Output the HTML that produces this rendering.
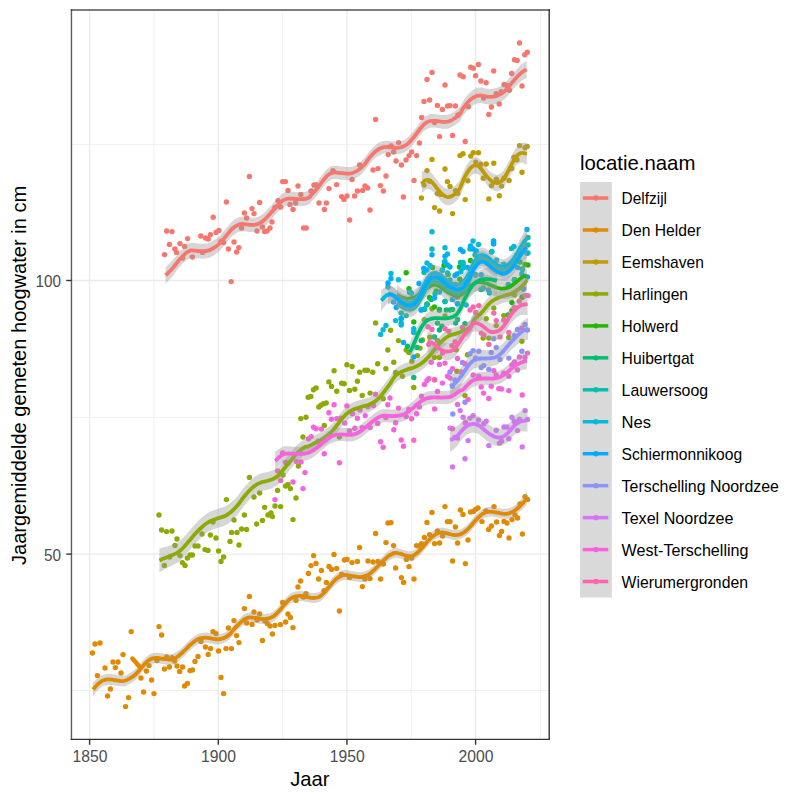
<!DOCTYPE html>
<html><head><meta charset="utf-8"><title>chart</title>
<style>html,body{margin:0;padding:0;background:#fff;width:800px;height:800px;overflow:hidden;font-family:"Liberation Sans",sans-serif}</style></head>
<body>
<svg width="800" height="800" viewBox="0 0 800 800" style="position:absolute;left:0;top:0">
<rect x="0" y="0" width="800" height="800" fill="#fff"/>
<g stroke="#ebebeb" fill="none">
<line x1="153.93" x2="153.93" y1="10.25" y2="739.4" stroke-width="0.7"/>
<line x1="282.60" x2="282.60" y1="10.25" y2="739.4" stroke-width="0.7"/>
<line x1="411.26" x2="411.26" y1="10.25" y2="739.4" stroke-width="0.7"/>
<line x1="540.40" x2="540.40" y1="10.25" y2="739.4" stroke-width="0.7"/>
<line y1="690.50" y2="690.50" x1="71.45" x2="549.2" stroke-width="0.7"/>
<line y1="417.40" y2="417.40" x1="71.45" x2="549.2" stroke-width="0.7"/>
<line y1="144.60" y2="144.60" x1="71.45" x2="549.2" stroke-width="0.7"/>
<line x1="89.60" x2="89.60" y1="10.25" y2="739.4" stroke-width="1.4"/>
<line x1="218.27" x2="218.27" y1="10.25" y2="739.4" stroke-width="1.4"/>
<line x1="346.93" x2="346.93" y1="10.25" y2="739.4" stroke-width="1.4"/>
<line x1="475.60" x2="475.60" y1="10.25" y2="739.4" stroke-width="1.4"/>
<line y1="554.10" y2="554.10" x1="71.45" x2="549.2" stroke-width="1.4"/>
<line y1="280.50" y2="280.50" x1="71.45" x2="549.2" stroke-width="1.4"/>
</g>
<g id="pts">
<circle cx="164.6" cy="254.6" r="2.7" fill="#F8766D"/>
<circle cx="166.6" cy="231.0" r="2.7" fill="#F8766D"/>
<circle cx="169.4" cy="244.4" r="2.7" fill="#F8766D"/>
<circle cx="172.0" cy="231.6" r="2.7" fill="#F8766D"/>
<circle cx="174.8" cy="249.0" r="2.7" fill="#F8766D"/>
<circle cx="176.6" cy="252.4" r="2.7" fill="#F8766D"/>
<circle cx="180.0" cy="243.6" r="2.7" fill="#F8766D"/>
<circle cx="182.6" cy="258.0" r="2.7" fill="#F8766D"/>
<circle cx="184.6" cy="246.4" r="2.7" fill="#F8766D"/>
<circle cx="187.6" cy="238.6" r="2.7" fill="#F8766D"/>
<circle cx="192.4" cy="257.0" r="2.7" fill="#F8766D"/>
<circle cx="200.8" cy="236.0" r="2.7" fill="#F8766D"/>
<circle cx="202.6" cy="252.4" r="2.7" fill="#F8766D"/>
<circle cx="205.6" cy="238.0" r="2.7" fill="#F8766D"/>
<circle cx="208.2" cy="239.0" r="2.7" fill="#F8766D"/>
<circle cx="210.4" cy="234.6" r="2.7" fill="#F8766D"/>
<circle cx="213.2" cy="217.2" r="2.7" fill="#F8766D"/>
<circle cx="216.0" cy="232.4" r="2.7" fill="#F8766D"/>
<circle cx="218.8" cy="230.4" r="2.7" fill="#F8766D"/>
<circle cx="221.0" cy="241.4" r="2.7" fill="#F8766D"/>
<circle cx="223.6" cy="242.6" r="2.7" fill="#F8766D"/>
<circle cx="226.4" cy="202.0" r="2.7" fill="#F8766D"/>
<circle cx="228.4" cy="249.0" r="2.7" fill="#F8766D"/>
<circle cx="231.2" cy="281.6" r="2.7" fill="#F8766D"/>
<circle cx="234.0" cy="242.0" r="2.7" fill="#F8766D"/>
<circle cx="236.6" cy="252.0" r="2.7" fill="#F8766D"/>
<circle cx="238.8" cy="247.6" r="2.7" fill="#F8766D"/>
<circle cx="241.6" cy="228.0" r="2.7" fill="#F8766D"/>
<circle cx="244.4" cy="213.0" r="2.7" fill="#F8766D"/>
<circle cx="246.6" cy="218.0" r="2.7" fill="#F8766D"/>
<circle cx="249.4" cy="176.4" r="2.7" fill="#F8766D"/>
<circle cx="252.0" cy="208.6" r="2.7" fill="#F8766D"/>
<circle cx="254.0" cy="213.6" r="2.7" fill="#F8766D"/>
<circle cx="257.0" cy="231.0" r="2.7" fill="#F8766D"/>
<circle cx="259.6" cy="202.4" r="2.7" fill="#F8766D"/>
<circle cx="262.4" cy="227.0" r="2.7" fill="#F8766D"/>
<circle cx="264.6" cy="231.6" r="2.7" fill="#F8766D"/>
<circle cx="267.0" cy="231.0" r="2.7" fill="#F8766D"/>
<circle cx="270.0" cy="228.0" r="2.7" fill="#F8766D"/>
<circle cx="272.0" cy="222.0" r="2.7" fill="#F8766D"/>
<circle cx="275.0" cy="207.4" r="2.7" fill="#F8766D"/>
<circle cx="278.0" cy="200.6" r="2.7" fill="#F8766D"/>
<circle cx="280.6" cy="207.0" r="2.7" fill="#F8766D"/>
<circle cx="282.6" cy="181.6" r="2.7" fill="#F8766D"/>
<circle cx="285.4" cy="181.6" r="2.7" fill="#F8766D"/>
<circle cx="288.0" cy="190.4" r="2.7" fill="#F8766D"/>
<circle cx="290.0" cy="204.4" r="2.7" fill="#F8766D"/>
<circle cx="293.0" cy="209.4" r="2.7" fill="#F8766D"/>
<circle cx="295.6" cy="203.0" r="2.7" fill="#F8766D"/>
<circle cx="298.0" cy="186.0" r="2.7" fill="#F8766D"/>
<circle cx="300.8" cy="194.4" r="2.7" fill="#F8766D"/>
<circle cx="303.6" cy="228.0" r="2.7" fill="#F8766D"/>
<circle cx="306.2" cy="228.0" r="2.7" fill="#F8766D"/>
<circle cx="311.0" cy="191.0" r="2.7" fill="#F8766D"/>
<circle cx="314.0" cy="185.0" r="2.7" fill="#F8766D"/>
<circle cx="316.0" cy="185.0" r="2.7" fill="#F8766D"/>
<circle cx="319.0" cy="203.0" r="2.7" fill="#F8766D"/>
<circle cx="324.4" cy="209.4" r="2.7" fill="#F8766D"/>
<circle cx="326.4" cy="203.0" r="2.7" fill="#F8766D"/>
<circle cx="329.0" cy="188.6" r="2.7" fill="#F8766D"/>
<circle cx="333.0" cy="170.6" r="2.7" fill="#F8766D"/>
<circle cx="336.6" cy="184.6" r="2.7" fill="#F8766D"/>
<circle cx="341.6" cy="196.6" r="2.7" fill="#F8766D"/>
<circle cx="344.0" cy="199.4" r="2.7" fill="#F8766D"/>
<circle cx="347.0" cy="196.0" r="2.7" fill="#F8766D"/>
<circle cx="349.6" cy="220.0" r="2.7" fill="#F8766D"/>
<circle cx="352.0" cy="179.4" r="2.7" fill="#F8766D"/>
<circle cx="354.6" cy="196.0" r="2.7" fill="#F8766D"/>
<circle cx="357.4" cy="191.0" r="2.7" fill="#F8766D"/>
<circle cx="359.6" cy="165.0" r="2.7" fill="#F8766D"/>
<circle cx="362.6" cy="190.4" r="2.7" fill="#F8766D"/>
<circle cx="365.0" cy="186.0" r="2.7" fill="#F8766D"/>
<circle cx="367.6" cy="188.0" r="2.7" fill="#F8766D"/>
<circle cx="370.0" cy="210.0" r="2.7" fill="#F8766D"/>
<circle cx="373.0" cy="170.0" r="2.7" fill="#F8766D"/>
<circle cx="375.6" cy="119.4" r="2.7" fill="#F8766D"/>
<circle cx="378.0" cy="168.6" r="2.7" fill="#F8766D"/>
<circle cx="380.4" cy="185.6" r="2.7" fill="#F8766D"/>
<circle cx="383.4" cy="191.0" r="2.7" fill="#F8766D"/>
<circle cx="386.0" cy="176.0" r="2.7" fill="#F8766D"/>
<circle cx="388.2" cy="154.6" r="2.7" fill="#F8766D"/>
<circle cx="391.0" cy="146.0" r="2.7" fill="#F8766D"/>
<circle cx="393.6" cy="152.0" r="2.7" fill="#F8766D"/>
<circle cx="396.0" cy="161.0" r="2.7" fill="#F8766D"/>
<circle cx="398.6" cy="142.6" r="2.7" fill="#F8766D"/>
<circle cx="401.4" cy="165.0" r="2.7" fill="#F8766D"/>
<circle cx="403.4" cy="197.0" r="2.7" fill="#F8766D"/>
<circle cx="406.0" cy="160.0" r="2.7" fill="#F8766D"/>
<circle cx="409.0" cy="155.6" r="2.7" fill="#F8766D"/>
<circle cx="411.6" cy="152.0" r="2.7" fill="#F8766D"/>
<circle cx="414.0" cy="180.4" r="2.7" fill="#F8766D"/>
<circle cx="416.6" cy="155.6" r="2.7" fill="#F8766D"/>
<circle cx="419.4" cy="143.0" r="2.7" fill="#F8766D"/>
<circle cx="421.6" cy="117.4" r="2.7" fill="#F8766D"/>
<circle cx="424.0" cy="101.4" r="2.7" fill="#F8766D"/>
<circle cx="427.0" cy="79.4" r="2.7" fill="#F8766D"/>
<circle cx="429.6" cy="100.0" r="2.7" fill="#F8766D"/>
<circle cx="432.0" cy="72.4" r="2.7" fill="#F8766D"/>
<circle cx="434.6" cy="122.6" r="2.7" fill="#F8766D"/>
<circle cx="437.4" cy="105.4" r="2.7" fill="#F8766D"/>
<circle cx="439.6" cy="136.6" r="2.7" fill="#F8766D"/>
<circle cx="442.4" cy="109.4" r="2.7" fill="#F8766D"/>
<circle cx="445.0" cy="85.0" r="2.7" fill="#F8766D"/>
<circle cx="447.6" cy="106.0" r="2.7" fill="#F8766D"/>
<circle cx="450.0" cy="105.6" r="2.7" fill="#F8766D"/>
<circle cx="452.6" cy="135.4" r="2.7" fill="#F8766D"/>
<circle cx="455.4" cy="106.0" r="2.7" fill="#F8766D"/>
<circle cx="458.0" cy="115.0" r="2.7" fill="#F8766D"/>
<circle cx="460.0" cy="75.0" r="2.7" fill="#F8766D"/>
<circle cx="463.2" cy="76.7" r="2.7" fill="#F8766D"/>
<circle cx="468.5" cy="106.7" r="2.7" fill="#F8766D"/>
<circle cx="470.8" cy="67.2" r="2.7" fill="#F8766D"/>
<circle cx="473.3" cy="68.3" r="2.7" fill="#F8766D"/>
<circle cx="475.6" cy="75.8" r="2.7" fill="#F8766D"/>
<circle cx="478.4" cy="64.5" r="2.7" fill="#F8766D"/>
<circle cx="480.9" cy="81.0" r="2.7" fill="#F8766D"/>
<circle cx="483.5" cy="98.0" r="2.7" fill="#F8766D"/>
<circle cx="486.1" cy="82.7" r="2.7" fill="#F8766D"/>
<circle cx="488.8" cy="114.5" r="2.7" fill="#F8766D"/>
<circle cx="491.4" cy="107.0" r="2.7" fill="#F8766D"/>
<circle cx="493.7" cy="71.0" r="2.7" fill="#F8766D"/>
<circle cx="496.2" cy="93.8" r="2.7" fill="#F8766D"/>
<circle cx="499.2" cy="104.0" r="2.7" fill="#F8766D"/>
<circle cx="501.2" cy="91.7" r="2.7" fill="#F8766D"/>
<circle cx="504.1" cy="84.5" r="2.7" fill="#F8766D"/>
<circle cx="506.8" cy="85.5" r="2.7" fill="#F8766D"/>
<circle cx="509.4" cy="90.2" r="2.7" fill="#F8766D"/>
<circle cx="511.7" cy="73.5" r="2.7" fill="#F8766D"/>
<circle cx="514.5" cy="59.8" r="2.7" fill="#F8766D"/>
<circle cx="517.2" cy="60.5" r="2.7" fill="#F8766D"/>
<circle cx="519.5" cy="43.0" r="2.7" fill="#F8766D"/>
<circle cx="522.0" cy="86.0" r="2.7" fill="#F8766D"/>
<circle cx="524.8" cy="54.8" r="2.7" fill="#F8766D"/>
<circle cx="527.3" cy="52.2" r="2.7" fill="#F8766D"/>
<circle cx="465.2" cy="141.5" r="2.7" fill="#F8766D"/>
<circle cx="92.4" cy="653.0" r="2.7" fill="#E18A00"/>
<circle cx="95.0" cy="644.0" r="2.7" fill="#E18A00"/>
<circle cx="97.4" cy="675.6" r="2.7" fill="#E18A00"/>
<circle cx="100.0" cy="643.0" r="2.7" fill="#E18A00"/>
<circle cx="105.0" cy="668.0" r="2.7" fill="#E18A00"/>
<circle cx="107.6" cy="696.0" r="2.7" fill="#E18A00"/>
<circle cx="110.4" cy="689.0" r="2.7" fill="#E18A00"/>
<circle cx="113.0" cy="662.0" r="2.7" fill="#E18A00"/>
<circle cx="115.4" cy="667.6" r="2.7" fill="#E18A00"/>
<circle cx="118.0" cy="662.0" r="2.7" fill="#E18A00"/>
<circle cx="121.0" cy="673.0" r="2.7" fill="#E18A00"/>
<circle cx="123.0" cy="654.6" r="2.7" fill="#E18A00"/>
<circle cx="125.6" cy="706.6" r="2.7" fill="#E18A00"/>
<circle cx="128.6" cy="697.6" r="2.7" fill="#E18A00"/>
<circle cx="131.2" cy="631.6" r="2.7" fill="#E18A00"/>
<circle cx="141.0" cy="678.0" r="2.7" fill="#E18A00"/>
<circle cx="143.6" cy="692.0" r="2.7" fill="#E18A00"/>
<circle cx="146.4" cy="671.0" r="2.7" fill="#E18A00"/>
<circle cx="149.0" cy="665.6" r="2.7" fill="#E18A00"/>
<circle cx="151.6" cy="680.0" r="2.7" fill="#E18A00"/>
<circle cx="154.0" cy="693.6" r="2.7" fill="#E18A00"/>
<circle cx="157.0" cy="660.6" r="2.7" fill="#E18A00"/>
<circle cx="159.0" cy="626.6" r="2.7" fill="#E18A00"/>
<circle cx="161.6" cy="635.0" r="2.7" fill="#E18A00"/>
<circle cx="164.4" cy="669.0" r="2.7" fill="#E18A00"/>
<circle cx="166.6" cy="657.0" r="2.7" fill="#E18A00"/>
<circle cx="169.4" cy="667.0" r="2.7" fill="#E18A00"/>
<circle cx="172.0" cy="657.6" r="2.7" fill="#E18A00"/>
<circle cx="174.6" cy="661.0" r="2.7" fill="#E18A00"/>
<circle cx="177.0" cy="666.0" r="2.7" fill="#E18A00"/>
<circle cx="179.6" cy="671.4" r="2.7" fill="#E18A00"/>
<circle cx="182.6" cy="667.0" r="2.7" fill="#E18A00"/>
<circle cx="184.6" cy="686.0" r="2.7" fill="#E18A00"/>
<circle cx="187.4" cy="683.4" r="2.7" fill="#E18A00"/>
<circle cx="190.0" cy="670.6" r="2.7" fill="#E18A00"/>
<circle cx="192.4" cy="670.0" r="2.7" fill="#E18A00"/>
<circle cx="195.0" cy="661.4" r="2.7" fill="#E18A00"/>
<circle cx="198.0" cy="656.4" r="2.7" fill="#E18A00"/>
<circle cx="201.0" cy="641.4" r="2.7" fill="#E18A00"/>
<circle cx="205.4" cy="647.0" r="2.7" fill="#E18A00"/>
<circle cx="208.2" cy="654.4" r="2.7" fill="#E18A00"/>
<circle cx="210.6" cy="648.6" r="2.7" fill="#E18A00"/>
<circle cx="213.0" cy="631.6" r="2.7" fill="#E18A00"/>
<circle cx="216.0" cy="633.6" r="2.7" fill="#E18A00"/>
<circle cx="218.6" cy="651.0" r="2.7" fill="#E18A00"/>
<circle cx="221.0" cy="677.4" r="2.7" fill="#E18A00"/>
<circle cx="223.6" cy="693.6" r="2.7" fill="#E18A00"/>
<circle cx="226.0" cy="648.6" r="2.7" fill="#E18A00"/>
<circle cx="228.4" cy="628.0" r="2.7" fill="#E18A00"/>
<circle cx="231.4" cy="648.6" r="2.7" fill="#E18A00"/>
<circle cx="234.0" cy="620.6" r="2.7" fill="#E18A00"/>
<circle cx="236.6" cy="635.6" r="2.7" fill="#E18A00"/>
<circle cx="239.0" cy="642.6" r="2.7" fill="#E18A00"/>
<circle cx="244.4" cy="608.6" r="2.7" fill="#E18A00"/>
<circle cx="246.6" cy="623.0" r="2.7" fill="#E18A00"/>
<circle cx="249.4" cy="596.4" r="2.7" fill="#E18A00"/>
<circle cx="252.0" cy="624.4" r="2.7" fill="#E18A00"/>
<circle cx="254.0" cy="612.0" r="2.7" fill="#E18A00"/>
<circle cx="257.0" cy="620.0" r="2.7" fill="#E18A00"/>
<circle cx="259.6" cy="614.0" r="2.7" fill="#E18A00"/>
<circle cx="262.4" cy="640.4" r="2.7" fill="#E18A00"/>
<circle cx="265.0" cy="621.0" r="2.7" fill="#E18A00"/>
<circle cx="267.4" cy="623.6" r="2.7" fill="#E18A00"/>
<circle cx="270.0" cy="626.0" r="2.7" fill="#E18A00"/>
<circle cx="272.4" cy="634.0" r="2.7" fill="#E18A00"/>
<circle cx="275.0" cy="625.4" r="2.7" fill="#E18A00"/>
<circle cx="280.4" cy="624.6" r="2.7" fill="#E18A00"/>
<circle cx="282.6" cy="602.4" r="2.7" fill="#E18A00"/>
<circle cx="285.6" cy="622.0" r="2.7" fill="#E18A00"/>
<circle cx="288.0" cy="614.0" r="2.7" fill="#E18A00"/>
<circle cx="290.4" cy="617.4" r="2.7" fill="#E18A00"/>
<circle cx="293.0" cy="627.6" r="2.7" fill="#E18A00"/>
<circle cx="296.0" cy="600.4" r="2.7" fill="#E18A00"/>
<circle cx="298.0" cy="587.0" r="2.7" fill="#E18A00"/>
<circle cx="300.6" cy="581.0" r="2.7" fill="#E18A00"/>
<circle cx="303.4" cy="597.0" r="2.7" fill="#E18A00"/>
<circle cx="306.0" cy="593.6" r="2.7" fill="#E18A00"/>
<circle cx="308.4" cy="573.4" r="2.7" fill="#E18A00"/>
<circle cx="311.0" cy="565.6" r="2.7" fill="#E18A00"/>
<circle cx="313.6" cy="555.6" r="2.7" fill="#E18A00"/>
<circle cx="316.0" cy="563.4" r="2.7" fill="#E18A00"/>
<circle cx="318.6" cy="579.0" r="2.7" fill="#E18A00"/>
<circle cx="321.4" cy="570.4" r="2.7" fill="#E18A00"/>
<circle cx="324.0" cy="590.6" r="2.7" fill="#E18A00"/>
<circle cx="326.4" cy="582.4" r="2.7" fill="#E18A00"/>
<circle cx="329.0" cy="566.4" r="2.7" fill="#E18A00"/>
<circle cx="331.6" cy="569.4" r="2.7" fill="#E18A00"/>
<circle cx="334.0" cy="554.4" r="2.7" fill="#E18A00"/>
<circle cx="336.6" cy="568.4" r="2.7" fill="#E18A00"/>
<circle cx="339.4" cy="611.0" r="2.7" fill="#E18A00"/>
<circle cx="341.6" cy="574.4" r="2.7" fill="#E18A00"/>
<circle cx="344.4" cy="560.0" r="2.7" fill="#E18A00"/>
<circle cx="347.0" cy="559.4" r="2.7" fill="#E18A00"/>
<circle cx="349.6" cy="577.6" r="2.7" fill="#E18A00"/>
<circle cx="352.0" cy="562.6" r="2.7" fill="#E18A00"/>
<circle cx="357.4" cy="561.4" r="2.7" fill="#E18A00"/>
<circle cx="359.6" cy="547.4" r="2.7" fill="#E18A00"/>
<circle cx="362.4" cy="586.6" r="2.7" fill="#E18A00"/>
<circle cx="365.0" cy="579.0" r="2.7" fill="#E18A00"/>
<circle cx="368.0" cy="561.0" r="2.7" fill="#E18A00"/>
<circle cx="370.0" cy="578.6" r="2.7" fill="#E18A00"/>
<circle cx="373.0" cy="562.0" r="2.7" fill="#E18A00"/>
<circle cx="375.6" cy="533.4" r="2.7" fill="#E18A00"/>
<circle cx="378.0" cy="561.4" r="2.7" fill="#E18A00"/>
<circle cx="380.6" cy="579.0" r="2.7" fill="#E18A00"/>
<circle cx="383.4" cy="564.0" r="2.7" fill="#E18A00"/>
<circle cx="386.0" cy="542.6" r="2.7" fill="#E18A00"/>
<circle cx="388.0" cy="523.0" r="2.7" fill="#E18A00"/>
<circle cx="391.0" cy="522.6" r="2.7" fill="#E18A00"/>
<circle cx="393.6" cy="545.6" r="2.7" fill="#E18A00"/>
<circle cx="395.6" cy="568.0" r="2.7" fill="#E18A00"/>
<circle cx="401.4" cy="577.6" r="2.7" fill="#E18A00"/>
<circle cx="403.6" cy="582.4" r="2.7" fill="#E18A00"/>
<circle cx="406.4" cy="559.4" r="2.7" fill="#E18A00"/>
<circle cx="409.0" cy="566.6" r="2.7" fill="#E18A00"/>
<circle cx="411.6" cy="558.0" r="2.7" fill="#E18A00"/>
<circle cx="414.0" cy="579.0" r="2.7" fill="#E18A00"/>
<circle cx="416.6" cy="545.6" r="2.7" fill="#E18A00"/>
<circle cx="419.2" cy="546.0" r="2.7" fill="#E18A00"/>
<circle cx="421.6" cy="543.6" r="2.7" fill="#E18A00"/>
<circle cx="424.4" cy="537.4" r="2.7" fill="#E18A00"/>
<circle cx="427.0" cy="522.4" r="2.7" fill="#E18A00"/>
<circle cx="429.6" cy="534.6" r="2.7" fill="#E18A00"/>
<circle cx="432.0" cy="512.4" r="2.7" fill="#E18A00"/>
<circle cx="434.6" cy="543.6" r="2.7" fill="#E18A00"/>
<circle cx="437.4" cy="531.0" r="2.7" fill="#E18A00"/>
<circle cx="439.6" cy="543.0" r="2.7" fill="#E18A00"/>
<circle cx="442.6" cy="536.0" r="2.7" fill="#E18A00"/>
<circle cx="445.0" cy="506.6" r="2.7" fill="#E18A00"/>
<circle cx="447.4" cy="521.6" r="2.7" fill="#E18A00"/>
<circle cx="450.0" cy="521.6" r="2.7" fill="#E18A00"/>
<circle cx="452.6" cy="561.0" r="2.7" fill="#E18A00"/>
<circle cx="455.4" cy="527.0" r="2.7" fill="#E18A00"/>
<circle cx="457.6" cy="543.0" r="2.7" fill="#E18A00"/>
<circle cx="460.4" cy="510.0" r="2.7" fill="#E18A00"/>
<circle cx="463.0" cy="514.4" r="2.7" fill="#E18A00"/>
<circle cx="465.4" cy="563.6" r="2.7" fill="#E18A00"/>
<circle cx="468.0" cy="540.0" r="2.7" fill="#E18A00"/>
<circle cx="470.6" cy="512.0" r="2.7" fill="#E18A00"/>
<circle cx="473.4" cy="511.4" r="2.7" fill="#E18A00"/>
<circle cx="475.6" cy="509.4" r="2.7" fill="#E18A00"/>
<circle cx="478.0" cy="508.0" r="2.7" fill="#E18A00"/>
<circle cx="482.0" cy="521.6" r="2.7" fill="#E18A00"/>
<circle cx="486.0" cy="511.0" r="2.7" fill="#E18A00"/>
<circle cx="488.6" cy="529.4" r="2.7" fill="#E18A00"/>
<circle cx="491.4" cy="526.0" r="2.7" fill="#E18A00"/>
<circle cx="494.0" cy="506.6" r="2.7" fill="#E18A00"/>
<circle cx="496.6" cy="522.0" r="2.7" fill="#E18A00"/>
<circle cx="499.4" cy="535.6" r="2.7" fill="#E18A00"/>
<circle cx="501.6" cy="531.4" r="2.7" fill="#E18A00"/>
<circle cx="504.0" cy="521.4" r="2.7" fill="#E18A00"/>
<circle cx="507.0" cy="523.0" r="2.7" fill="#E18A00"/>
<circle cx="509.0" cy="538.0" r="2.7" fill="#E18A00"/>
<circle cx="512.0" cy="519.6" r="2.7" fill="#E18A00"/>
<circle cx="515.0" cy="515.0" r="2.7" fill="#E18A00"/>
<circle cx="517.6" cy="518.0" r="2.7" fill="#E18A00"/>
<circle cx="520.0" cy="504.0" r="2.7" fill="#E18A00"/>
<circle cx="522.4" cy="534.0" r="2.7" fill="#E18A00"/>
<circle cx="525.0" cy="496.6" r="2.7" fill="#E18A00"/>
<circle cx="527.6" cy="499.4" r="2.7" fill="#E18A00"/>
<circle cx="421.4" cy="198.0" r="2.7" fill="#BE9C00"/>
<circle cx="424.0" cy="185.0" r="2.7" fill="#BE9C00"/>
<circle cx="427.0" cy="170.6" r="2.7" fill="#BE9C00"/>
<circle cx="432.0" cy="159.4" r="2.7" fill="#BE9C00"/>
<circle cx="434.6" cy="207.6" r="2.7" fill="#BE9C00"/>
<circle cx="437.4" cy="193.6" r="2.7" fill="#BE9C00"/>
<circle cx="439.6" cy="211.0" r="2.7" fill="#BE9C00"/>
<circle cx="441.0" cy="194.4" r="2.7" fill="#BE9C00"/>
<circle cx="445.0" cy="169.0" r="2.7" fill="#BE9C00"/>
<circle cx="447.4" cy="181.6" r="2.7" fill="#BE9C00"/>
<circle cx="450.0" cy="186.4" r="2.7" fill="#BE9C00"/>
<circle cx="452.6" cy="213.6" r="2.7" fill="#BE9C00"/>
<circle cx="460.0" cy="155.6" r="2.7" fill="#BE9C00"/>
<circle cx="429.6" cy="181.2" r="2.7" fill="#BE9C00"/>
<circle cx="455.5" cy="190.6" r="2.7" fill="#BE9C00"/>
<circle cx="457.8" cy="193.2" r="2.7" fill="#BE9C00"/>
<circle cx="463.0" cy="153.8" r="2.7" fill="#BE9C00"/>
<circle cx="465.2" cy="199.6" r="2.7" fill="#BE9C00"/>
<circle cx="467.9" cy="180.8" r="2.7" fill="#BE9C00"/>
<circle cx="470.8" cy="156.1" r="2.7" fill="#BE9C00"/>
<circle cx="473.2" cy="152.8" r="2.7" fill="#BE9C00"/>
<circle cx="475.8" cy="162.1" r="2.7" fill="#BE9C00"/>
<circle cx="478.4" cy="152.8" r="2.7" fill="#BE9C00"/>
<circle cx="481.0" cy="164.3" r="2.7" fill="#BE9C00"/>
<circle cx="483.2" cy="178.2" r="2.7" fill="#BE9C00"/>
<circle cx="486.2" cy="164.0" r="2.7" fill="#BE9C00"/>
<circle cx="488.8" cy="198.9" r="2.7" fill="#BE9C00"/>
<circle cx="491.5" cy="185.8" r="2.7" fill="#BE9C00"/>
<circle cx="493.8" cy="163.2" r="2.7" fill="#BE9C00"/>
<circle cx="496.4" cy="179.3" r="2.7" fill="#BE9C00"/>
<circle cx="499.3" cy="195.8" r="2.7" fill="#BE9C00"/>
<circle cx="501.6" cy="186.1" r="2.7" fill="#BE9C00"/>
<circle cx="503.9" cy="178.2" r="2.7" fill="#BE9C00"/>
<circle cx="509.1" cy="180.5" r="2.7" fill="#BE9C00"/>
<circle cx="511.8" cy="168.5" r="2.7" fill="#BE9C00"/>
<circle cx="514.0" cy="157.2" r="2.7" fill="#BE9C00"/>
<circle cx="517.0" cy="159.8" r="2.7" fill="#BE9C00"/>
<circle cx="519.5" cy="145.6" r="2.7" fill="#BE9C00"/>
<circle cx="522.0" cy="172.2" r="2.7" fill="#BE9C00"/>
<circle cx="525.0" cy="147.8" r="2.7" fill="#BE9C00"/>
<circle cx="527.2" cy="146.4" r="2.7" fill="#BE9C00"/>
<circle cx="234.0" cy="520.0" r="2.7" fill="#8CAB00"/>
<circle cx="244.4" cy="515.0" r="2.7" fill="#8CAB00"/>
<circle cx="231.6" cy="532.4" r="2.7" fill="#8CAB00"/>
<circle cx="237.0" cy="532.4" r="2.7" fill="#8CAB00"/>
<circle cx="241.6" cy="529.0" r="2.7" fill="#8CAB00"/>
<circle cx="246.6" cy="529.4" r="2.7" fill="#8CAB00"/>
<circle cx="239.0" cy="545.0" r="2.7" fill="#8CAB00"/>
<circle cx="256.6" cy="524.0" r="2.7" fill="#8CAB00"/>
<circle cx="262.4" cy="520.4" r="2.7" fill="#8CAB00"/>
<circle cx="268.0" cy="515.0" r="2.7" fill="#8CAB00"/>
<circle cx="271.0" cy="513.0" r="2.7" fill="#8CAB00"/>
<circle cx="272.4" cy="516.6" r="2.7" fill="#8CAB00"/>
<circle cx="293.0" cy="519.6" r="2.7" fill="#8CAB00"/>
<circle cx="230.0" cy="541.4" r="2.7" fill="#8CAB00"/>
<circle cx="159.0" cy="515.0" r="2.7" fill="#8CAB00"/>
<circle cx="161.6" cy="530.0" r="2.7" fill="#8CAB00"/>
<circle cx="164.4" cy="565.4" r="2.7" fill="#8CAB00"/>
<circle cx="166.6" cy="531.6" r="2.7" fill="#8CAB00"/>
<circle cx="169.6" cy="557.0" r="2.7" fill="#8CAB00"/>
<circle cx="172.0" cy="531.0" r="2.7" fill="#8CAB00"/>
<circle cx="175.0" cy="545.4" r="2.7" fill="#8CAB00"/>
<circle cx="177.0" cy="539.0" r="2.7" fill="#8CAB00"/>
<circle cx="180.0" cy="555.6" r="2.7" fill="#8CAB00"/>
<circle cx="182.4" cy="562.6" r="2.7" fill="#8CAB00"/>
<circle cx="185.0" cy="565.4" r="2.7" fill="#8CAB00"/>
<circle cx="187.4" cy="558.0" r="2.7" fill="#8CAB00"/>
<circle cx="190.0" cy="555.0" r="2.7" fill="#8CAB00"/>
<circle cx="192.4" cy="555.0" r="2.7" fill="#8CAB00"/>
<circle cx="195.0" cy="546.0" r="2.7" fill="#8CAB00"/>
<circle cx="198.0" cy="546.0" r="2.7" fill="#8CAB00"/>
<circle cx="202.0" cy="534.0" r="2.7" fill="#8CAB00"/>
<circle cx="205.0" cy="549.6" r="2.7" fill="#8CAB00"/>
<circle cx="208.0" cy="550.4" r="2.7" fill="#8CAB00"/>
<circle cx="210.4" cy="535.0" r="2.7" fill="#8CAB00"/>
<circle cx="213.0" cy="522.0" r="2.7" fill="#8CAB00"/>
<circle cx="216.0" cy="538.0" r="2.7" fill="#8CAB00"/>
<circle cx="218.6" cy="551.0" r="2.7" fill="#8CAB00"/>
<circle cx="221.0" cy="561.4" r="2.7" fill="#8CAB00"/>
<circle cx="223.6" cy="557.0" r="2.7" fill="#8CAB00"/>
<circle cx="226.4" cy="499.6" r="2.7" fill="#8CAB00"/>
<circle cx="249.4" cy="477.4" r="2.7" fill="#8CAB00"/>
<circle cx="254.0" cy="497.0" r="2.7" fill="#8CAB00"/>
<circle cx="259.6" cy="493.0" r="2.7" fill="#8CAB00"/>
<circle cx="264.6" cy="507.4" r="2.7" fill="#8CAB00"/>
<circle cx="275.0" cy="506.0" r="2.7" fill="#8CAB00"/>
<circle cx="277.6" cy="490.4" r="2.7" fill="#8CAB00"/>
<circle cx="280.6" cy="506.6" r="2.7" fill="#8CAB00"/>
<circle cx="283.0" cy="475.0" r="2.7" fill="#8CAB00"/>
<circle cx="285.6" cy="486.0" r="2.7" fill="#8CAB00"/>
<circle cx="288.0" cy="484.4" r="2.7" fill="#8CAB00"/>
<circle cx="290.4" cy="488.6" r="2.7" fill="#8CAB00"/>
<circle cx="296.0" cy="498.0" r="2.7" fill="#8CAB00"/>
<circle cx="298.4" cy="466.0" r="2.7" fill="#8CAB00"/>
<circle cx="303.0" cy="437.0" r="2.7" fill="#8CAB00"/>
<circle cx="300.8" cy="418.6" r="2.7" fill="#8CAB00"/>
<circle cx="306.0" cy="417.2" r="2.7" fill="#8CAB00"/>
<circle cx="308.2" cy="397.2" r="2.7" fill="#8CAB00"/>
<circle cx="310.9" cy="396.5" r="2.7" fill="#8CAB00"/>
<circle cx="313.5" cy="389.8" r="2.7" fill="#8CAB00"/>
<circle cx="316.1" cy="387.9" r="2.7" fill="#8CAB00"/>
<circle cx="318.8" cy="407.0" r="2.7" fill="#8CAB00"/>
<circle cx="321.0" cy="405.2" r="2.7" fill="#8CAB00"/>
<circle cx="323.6" cy="403.7" r="2.7" fill="#8CAB00"/>
<circle cx="324.3" cy="425.4" r="2.7" fill="#8CAB00"/>
<circle cx="326.2" cy="402.9" r="2.7" fill="#8CAB00"/>
<circle cx="328.9" cy="381.9" r="2.7" fill="#8CAB00"/>
<circle cx="331.5" cy="386.4" r="2.7" fill="#8CAB00"/>
<circle cx="334.1" cy="370.7" r="2.7" fill="#8CAB00"/>
<circle cx="336.8" cy="391.2" r="2.7" fill="#8CAB00"/>
<circle cx="339.4" cy="437.0" r="2.7" fill="#8CAB00"/>
<circle cx="341.7" cy="383.3" r="2.7" fill="#8CAB00"/>
<circle cx="344.2" cy="383.8" r="2.7" fill="#8CAB00"/>
<circle cx="346.9" cy="364.7" r="2.7" fill="#8CAB00"/>
<circle cx="349.5" cy="390.5" r="2.7" fill="#8CAB00"/>
<circle cx="352.1" cy="366.5" r="2.7" fill="#8CAB00"/>
<circle cx="354.8" cy="389.3" r="2.7" fill="#8CAB00"/>
<circle cx="357.4" cy="381.2" r="2.7" fill="#8CAB00"/>
<circle cx="359.7" cy="372.2" r="2.7" fill="#8CAB00"/>
<circle cx="362.2" cy="395.4" r="2.7" fill="#8CAB00"/>
<circle cx="364.9" cy="370.2" r="2.7" fill="#8CAB00"/>
<circle cx="367.5" cy="370.2" r="2.7" fill="#8CAB00"/>
<circle cx="370.1" cy="393.1" r="2.7" fill="#8CAB00"/>
<circle cx="372.8" cy="372.2" r="2.7" fill="#8CAB00"/>
<circle cx="377.7" cy="363.8" r="2.7" fill="#8CAB00"/>
<circle cx="383.2" cy="398.8" r="2.7" fill="#8CAB00"/>
<circle cx="385.9" cy="368.8" r="2.7" fill="#8CAB00"/>
<circle cx="387.8" cy="350.0" r="2.7" fill="#8CAB00"/>
<circle cx="375.6" cy="322.9" r="2.7" fill="#8CAB00"/>
<circle cx="390.6" cy="330.2" r="2.7" fill="#8CAB00"/>
<circle cx="393.8" cy="362.2" r="2.7" fill="#8CAB00"/>
<circle cx="395.6" cy="372.5" r="2.7" fill="#8CAB00"/>
<circle cx="398.5" cy="340.6" r="2.7" fill="#8CAB00"/>
<circle cx="402.5" cy="376.2" r="2.7" fill="#8CAB00"/>
<circle cx="406.2" cy="350.0" r="2.7" fill="#8CAB00"/>
<circle cx="408.8" cy="352.5" r="2.7" fill="#8CAB00"/>
<circle cx="411.9" cy="361.2" r="2.7" fill="#8CAB00"/>
<circle cx="413.8" cy="387.5" r="2.7" fill="#8CAB00"/>
<circle cx="417.5" cy="355.6" r="2.7" fill="#8CAB00"/>
<circle cx="420.0" cy="348.1" r="2.7" fill="#8CAB00"/>
<circle cx="422.5" cy="340.0" r="2.7" fill="#8CAB00"/>
<circle cx="424.4" cy="319.8" r="2.7" fill="#8CAB00"/>
<circle cx="429.8" cy="337.2" r="2.7" fill="#8CAB00"/>
<circle cx="431.9" cy="308.8" r="2.7" fill="#8CAB00"/>
<circle cx="434.4" cy="357.5" r="2.7" fill="#8CAB00"/>
<circle cx="437.5" cy="340.6" r="2.7" fill="#8CAB00"/>
<circle cx="439.4" cy="357.5" r="2.7" fill="#8CAB00"/>
<circle cx="439.4" cy="310.2" r="2.7" fill="#8CAB00"/>
<circle cx="445.0" cy="316.0" r="2.7" fill="#8CAB00"/>
<circle cx="456.2" cy="349.8" r="2.7" fill="#8CAB00"/>
<circle cx="456.9" cy="371.2" r="2.7" fill="#8CAB00"/>
<circle cx="467.5" cy="354.8" r="2.7" fill="#8CAB00"/>
<circle cx="493.8" cy="308.1" r="2.7" fill="#8CAB00"/>
<circle cx="486.2" cy="318.8" r="2.7" fill="#8CAB00"/>
<circle cx="496.2" cy="325.6" r="2.7" fill="#8CAB00"/>
<circle cx="503.8" cy="315.6" r="2.7" fill="#8CAB00"/>
<circle cx="514.4" cy="295.0" r="2.7" fill="#8CAB00"/>
<circle cx="521.9" cy="297.5" r="2.7" fill="#8CAB00"/>
<circle cx="508.8" cy="337.5" r="2.7" fill="#8CAB00"/>
<circle cx="488.8" cy="338.1" r="2.7" fill="#8CAB00"/>
<circle cx="483.1" cy="338.1" r="2.7" fill="#8CAB00"/>
<circle cx="521.9" cy="341.2" r="2.7" fill="#8CAB00"/>
<circle cx="465.0" cy="395.6" r="2.7" fill="#8CAB00"/>
<circle cx="401.2" cy="313.1" r="2.7" fill="#8CAB00"/>
<circle cx="406.2" cy="272.8" r="2.7" fill="#24B700"/>
<circle cx="409.0" cy="288.7" r="2.7" fill="#24B700"/>
<circle cx="432.5" cy="267.5" r="2.7" fill="#24B700"/>
<circle cx="444.0" cy="265.5" r="2.7" fill="#24B700"/>
<circle cx="429.5" cy="297.5" r="2.7" fill="#24B700"/>
<circle cx="427.0" cy="304.0" r="2.7" fill="#24B700"/>
<circle cx="470.5" cy="260.5" r="2.7" fill="#24B700"/>
<circle cx="459.5" cy="267.0" r="2.7" fill="#24B700"/>
<circle cx="525.0" cy="264.5" r="2.7" fill="#24B700"/>
<circle cx="528.0" cy="265.0" r="2.7" fill="#24B700"/>
<circle cx="520.0" cy="262.0" r="2.7" fill="#24B700"/>
<circle cx="514.5" cy="279.5" r="2.7" fill="#24B700"/>
<circle cx="522.5" cy="297.0" r="2.7" fill="#24B700"/>
<circle cx="413.8" cy="321.9" r="2.7" fill="#24B700"/>
<circle cx="434.4" cy="306.9" r="2.7" fill="#24B700"/>
<circle cx="508.1" cy="315.0" r="2.7" fill="#24B700"/>
<circle cx="511.9" cy="310.6" r="2.7" fill="#24B700"/>
<circle cx="511.9" cy="302.5" r="2.7" fill="#24B700"/>
<circle cx="459.8" cy="279.2" r="2.7" fill="#24B700"/>
<circle cx="436.1" cy="290.9" r="2.7" fill="#24B700"/>
<circle cx="448.1" cy="274.4" r="2.7" fill="#24B700"/>
<circle cx="457.5" cy="296.9" r="2.7" fill="#24B700"/>
<circle cx="481.0" cy="289.5" r="2.7" fill="#00BE70"/>
<circle cx="483.5" cy="288.0" r="2.7" fill="#00BE70"/>
<circle cx="522.0" cy="269.0" r="2.7" fill="#00BE70"/>
<circle cx="426.9" cy="304.8" r="2.7" fill="#00BE70"/>
<circle cx="424.4" cy="309.4" r="2.7" fill="#00BE70"/>
<circle cx="437.5" cy="323.1" r="2.7" fill="#00BE70"/>
<circle cx="439.4" cy="330.0" r="2.7" fill="#00BE70"/>
<circle cx="445.0" cy="301.5" r="2.7" fill="#00BE70"/>
<circle cx="446.2" cy="310.0" r="2.7" fill="#00BE70"/>
<circle cx="450.0" cy="310.0" r="2.7" fill="#00BE70"/>
<circle cx="452.5" cy="309.4" r="2.7" fill="#00BE70"/>
<circle cx="455.6" cy="323.1" r="2.7" fill="#00BE70"/>
<circle cx="434.4" cy="336.9" r="2.7" fill="#00BE70"/>
<circle cx="421.2" cy="340.6" r="2.7" fill="#00BE70"/>
<circle cx="416.9" cy="347.5" r="2.7" fill="#00BE70"/>
<circle cx="407.5" cy="346.2" r="2.7" fill="#00BE70"/>
<circle cx="413.8" cy="377.5" r="2.7" fill="#00BE70"/>
<circle cx="441.9" cy="326.2" r="2.7" fill="#00BE70"/>
<circle cx="465.0" cy="323.8" r="2.7" fill="#00BE70"/>
<circle cx="457.5" cy="319.4" r="2.7" fill="#00BE70"/>
<circle cx="439.4" cy="309.4" r="2.7" fill="#00BE70"/>
<circle cx="431.2" cy="299.4" r="2.7" fill="#00BE70"/>
<circle cx="475.6" cy="274.8" r="2.7" fill="#00BE70"/>
<circle cx="432.0" cy="249.0" r="2.7" fill="#00C1AB"/>
<circle cx="445.0" cy="261.5" r="2.7" fill="#00C1AB"/>
<circle cx="424.0" cy="272.5" r="2.7" fill="#00C1AB"/>
<circle cx="447.5" cy="273.0" r="2.7" fill="#00C1AB"/>
<circle cx="445.0" cy="301.5" r="2.7" fill="#00C1AB"/>
<circle cx="435.0" cy="294.0" r="2.7" fill="#00C1AB"/>
<circle cx="450.0" cy="280.0" r="2.7" fill="#00C1AB"/>
<circle cx="460.5" cy="262.5" r="2.7" fill="#00C1AB"/>
<circle cx="463.0" cy="267.0" r="2.7" fill="#00C1AB"/>
<circle cx="470.0" cy="249.0" r="2.7" fill="#00C1AB"/>
<circle cx="475.0" cy="255.0" r="2.7" fill="#00C1AB"/>
<circle cx="492.0" cy="251.5" r="2.7" fill="#00C1AB"/>
<circle cx="511.5" cy="248.5" r="2.7" fill="#00C1AB"/>
<circle cx="528.0" cy="237.5" r="2.7" fill="#00C1AB"/>
<circle cx="528.0" cy="245.0" r="2.7" fill="#00C1AB"/>
<circle cx="528.0" cy="253.0" r="2.7" fill="#00C1AB"/>
<circle cx="482.0" cy="289.0" r="2.7" fill="#00C1AB"/>
<circle cx="489.5" cy="293.0" r="2.7" fill="#00C1AB"/>
<circle cx="475.5" cy="275.0" r="2.7" fill="#00C1AB"/>
<circle cx="401.2" cy="313.1" r="2.7" fill="#00C1AB"/>
<circle cx="406.2" cy="315.6" r="2.7" fill="#00C1AB"/>
<circle cx="410.0" cy="291.9" r="2.7" fill="#00C1AB"/>
<circle cx="463.1" cy="264.6" r="2.7" fill="#00C1AB"/>
<circle cx="455.2" cy="284.1" r="2.7" fill="#00C1AB"/>
<circle cx="503.8" cy="264.5" r="2.7" fill="#00C1AB"/>
<circle cx="522.5" cy="269.4" r="2.7" fill="#00C1AB"/>
<circle cx="401.2" cy="323.2" r="2.7" fill="#00C1AB"/>
<circle cx="414.0" cy="331.9" r="2.7" fill="#00C1AB"/>
<circle cx="424.5" cy="309.0" r="2.7" fill="#00C1AB"/>
<circle cx="427.1" cy="304.5" r="2.7" fill="#00C1AB"/>
<circle cx="442.2" cy="270.0" r="2.7" fill="#00C1AB"/>
<circle cx="514.2" cy="280.0" r="2.7" fill="#00C1AB"/>
<circle cx="391.0" cy="273.5" r="2.7" fill="#00BBDA"/>
<circle cx="398.5" cy="279.7" r="2.7" fill="#00BBDA"/>
<circle cx="432.0" cy="231.8" r="2.7" fill="#00BBDA"/>
<circle cx="445.0" cy="247.8" r="2.7" fill="#00BBDA"/>
<circle cx="427.0" cy="263.0" r="2.7" fill="#00BBDA"/>
<circle cx="424.0" cy="268.5" r="2.7" fill="#00BBDA"/>
<circle cx="447.5" cy="254.0" r="2.7" fill="#00BBDA"/>
<circle cx="409.5" cy="292.5" r="2.7" fill="#00BBDA"/>
<circle cx="388.0" cy="287.0" r="2.7" fill="#00BBDA"/>
<circle cx="430.0" cy="265.5" r="2.7" fill="#00BBDA"/>
<circle cx="442.5" cy="270.5" r="2.7" fill="#00BBDA"/>
<circle cx="473.0" cy="241.0" r="2.7" fill="#00BBDA"/>
<circle cx="478.5" cy="244.5" r="2.7" fill="#00BBDA"/>
<circle cx="493.5" cy="241.0" r="2.7" fill="#00BBDA"/>
<circle cx="493.5" cy="243.5" r="2.7" fill="#00BBDA"/>
<circle cx="476.5" cy="251.0" r="2.7" fill="#00BBDA"/>
<circle cx="514.0" cy="246.5" r="2.7" fill="#00BBDA"/>
<circle cx="380.6" cy="334.4" r="2.7" fill="#00BBDA"/>
<circle cx="383.1" cy="329.8" r="2.7" fill="#00BBDA"/>
<circle cx="386.0" cy="325.4" r="2.7" fill="#00BBDA"/>
<circle cx="395.6" cy="320.6" r="2.7" fill="#00BBDA"/>
<circle cx="401.2" cy="318.8" r="2.7" fill="#00BBDA"/>
<circle cx="401.2" cy="325.0" r="2.7" fill="#00BBDA"/>
<circle cx="413.8" cy="328.8" r="2.7" fill="#00BBDA"/>
<circle cx="413.8" cy="332.5" r="2.7" fill="#00BBDA"/>
<circle cx="421.2" cy="310.0" r="2.7" fill="#00BBDA"/>
<circle cx="452.5" cy="299.4" r="2.7" fill="#00BBDA"/>
<circle cx="457.5" cy="303.8" r="2.7" fill="#00BBDA"/>
<circle cx="466.2" cy="305.0" r="2.7" fill="#00BBDA"/>
<circle cx="411.4" cy="293.2" r="2.7" fill="#00BBDA"/>
<circle cx="460.9" cy="271.8" r="2.7" fill="#00BBDA"/>
<circle cx="463.1" cy="268.0" r="2.7" fill="#00BBDA"/>
<circle cx="491.4" cy="252.1" r="2.7" fill="#00BBDA"/>
<circle cx="527.0" cy="253.2" r="2.7" fill="#00BBDA"/>
<circle cx="496.6" cy="260.0" r="2.7" fill="#00BBDA"/>
<circle cx="444.4" cy="261.9" r="2.7" fill="#00BBDA"/>
<circle cx="463.1" cy="262.5" r="2.7" fill="#00BBDA"/>
<circle cx="503.8" cy="264.2" r="2.7" fill="#00BBDA"/>
<circle cx="391.0" cy="278.5" r="2.7" fill="#00ACFC"/>
<circle cx="388.0" cy="283.0" r="2.7" fill="#00ACFC"/>
<circle cx="432.0" cy="254.8" r="2.7" fill="#00ACFC"/>
<circle cx="445.0" cy="256.2" r="2.7" fill="#00ACFC"/>
<circle cx="427.0" cy="270.0" r="2.7" fill="#00ACFC"/>
<circle cx="447.5" cy="265.0" r="2.7" fill="#00ACFC"/>
<circle cx="450.0" cy="267.0" r="2.7" fill="#00ACFC"/>
<circle cx="455.0" cy="275.5" r="2.7" fill="#00ACFC"/>
<circle cx="419.0" cy="283.5" r="2.7" fill="#00ACFC"/>
<circle cx="439.5" cy="292.0" r="2.7" fill="#00ACFC"/>
<circle cx="434.5" cy="298.0" r="2.7" fill="#00ACFC"/>
<circle cx="393.5" cy="302.0" r="2.7" fill="#00ACFC"/>
<circle cx="460.5" cy="249.5" r="2.7" fill="#00ACFC"/>
<circle cx="463.0" cy="251.5" r="2.7" fill="#00ACFC"/>
<circle cx="470.5" cy="246.0" r="2.7" fill="#00ACFC"/>
<circle cx="473.0" cy="249.0" r="2.7" fill="#00ACFC"/>
<circle cx="457.0" cy="274.0" r="2.7" fill="#00ACFC"/>
<circle cx="467.5" cy="267.5" r="2.7" fill="#00ACFC"/>
<circle cx="527.0" cy="229.5" r="2.7" fill="#00ACFC"/>
<circle cx="517.5" cy="267.5" r="2.7" fill="#00ACFC"/>
<circle cx="488.5" cy="290.0" r="2.7" fill="#00ACFC"/>
<circle cx="396.2" cy="307.5" r="2.7" fill="#00ACFC"/>
<circle cx="403.5" cy="342.5" r="2.7" fill="#00ACFC"/>
<circle cx="413.8" cy="356.9" r="2.7" fill="#00ACFC"/>
<circle cx="421.2" cy="310.0" r="2.7" fill="#00ACFC"/>
<circle cx="452.5" cy="299.4" r="2.7" fill="#00ACFC"/>
<circle cx="457.5" cy="303.8" r="2.7" fill="#00ACFC"/>
<circle cx="423.8" cy="268.5" r="2.7" fill="#00ACFC"/>
<circle cx="475.9" cy="251.1" r="2.7" fill="#00ACFC"/>
<circle cx="493.6" cy="241.2" r="2.7" fill="#00ACFC"/>
<circle cx="493.6" cy="243.9" r="2.7" fill="#00ACFC"/>
<circle cx="401.2" cy="318.4" r="2.7" fill="#00ACFC"/>
<circle cx="521.8" cy="274.0" r="2.7" fill="#00ACFC"/>
<circle cx="481.2" cy="274.8" r="2.7" fill="#00ACFC"/>
<circle cx="508.2" cy="284.5" r="2.7" fill="#00ACFC"/>
<circle cx="523.6" cy="289.0" r="2.7" fill="#00ACFC"/>
<circle cx="527.4" cy="277.0" r="2.7" fill="#00ACFC"/>
<circle cx="462.5" cy="362.5" r="2.7" fill="#8B93FF"/>
<circle cx="450.0" cy="371.9" r="2.7" fill="#8B93FF"/>
<circle cx="455.0" cy="380.0" r="2.7" fill="#8B93FF"/>
<circle cx="452.5" cy="386.2" r="2.7" fill="#8B93FF"/>
<circle cx="470.0" cy="353.8" r="2.7" fill="#8B93FF"/>
<circle cx="473.1" cy="350.6" r="2.7" fill="#8B93FF"/>
<circle cx="478.8" cy="351.2" r="2.7" fill="#8B93FF"/>
<circle cx="475.6" cy="358.1" r="2.7" fill="#8B93FF"/>
<circle cx="491.2" cy="352.5" r="2.7" fill="#8B93FF"/>
<circle cx="496.2" cy="347.5" r="2.7" fill="#8B93FF"/>
<circle cx="493.8" cy="338.8" r="2.7" fill="#8B93FF"/>
<circle cx="481.2" cy="367.5" r="2.7" fill="#8B93FF"/>
<circle cx="483.8" cy="365.6" r="2.7" fill="#8B93FF"/>
<circle cx="488.8" cy="369.4" r="2.7" fill="#8B93FF"/>
<circle cx="500.0" cy="359.4" r="2.7" fill="#8B93FF"/>
<circle cx="508.8" cy="358.1" r="2.7" fill="#8B93FF"/>
<circle cx="514.4" cy="335.6" r="2.7" fill="#8B93FF"/>
<circle cx="517.5" cy="329.4" r="2.7" fill="#8B93FF"/>
<circle cx="525.0" cy="324.4" r="2.7" fill="#8B93FF"/>
<circle cx="527.5" cy="330.0" r="2.7" fill="#8B93FF"/>
<circle cx="521.9" cy="351.2" r="2.7" fill="#8B93FF"/>
<circle cx="452.8" cy="414.0" r="2.7" fill="#8B93FF"/>
<circle cx="465.0" cy="402.2" r="2.7" fill="#8B93FF"/>
<circle cx="460.2" cy="410.6" r="2.7" fill="#D575FE"/>
<circle cx="463.1" cy="417.2" r="2.7" fill="#D575FE"/>
<circle cx="465.6" cy="422.5" r="2.7" fill="#D575FE"/>
<circle cx="470.0" cy="418.1" r="2.7" fill="#D575FE"/>
<circle cx="450.0" cy="428.1" r="2.7" fill="#D575FE"/>
<circle cx="468.1" cy="440.6" r="2.7" fill="#D575FE"/>
<circle cx="465.0" cy="458.8" r="2.7" fill="#D575FE"/>
<circle cx="452.5" cy="466.9" r="2.7" fill="#D575FE"/>
<circle cx="473.1" cy="415.6" r="2.7" fill="#D575FE"/>
<circle cx="478.5" cy="420.0" r="2.7" fill="#D575FE"/>
<circle cx="483.8" cy="423.8" r="2.7" fill="#D575FE"/>
<circle cx="486.2" cy="421.2" r="2.7" fill="#D575FE"/>
<circle cx="488.8" cy="445.6" r="2.7" fill="#D575FE"/>
<circle cx="496.2" cy="430.2" r="2.7" fill="#D575FE"/>
<circle cx="499.4" cy="443.1" r="2.7" fill="#D575FE"/>
<circle cx="501.5" cy="441.2" r="2.7" fill="#D575FE"/>
<circle cx="504.0" cy="426.9" r="2.7" fill="#D575FE"/>
<circle cx="506.9" cy="426.9" r="2.7" fill="#D575FE"/>
<circle cx="508.8" cy="438.8" r="2.7" fill="#D575FE"/>
<circle cx="511.9" cy="417.2" r="2.7" fill="#D575FE"/>
<circle cx="514.4" cy="421.5" r="2.7" fill="#D575FE"/>
<circle cx="517.5" cy="430.6" r="2.7" fill="#D575FE"/>
<circle cx="519.4" cy="419.4" r="2.7" fill="#D575FE"/>
<circle cx="522.2" cy="446.9" r="2.7" fill="#D575FE"/>
<circle cx="525.0" cy="410.6" r="2.7" fill="#D575FE"/>
<circle cx="527.5" cy="419.4" r="2.7" fill="#D575FE"/>
<circle cx="455.0" cy="437.5" r="2.7" fill="#D575FE"/>
<circle cx="457.5" cy="438.1" r="2.7" fill="#D575FE"/>
<circle cx="275.0" cy="499.6" r="2.7" fill="#F962DD"/>
<circle cx="277.6" cy="471.0" r="2.7" fill="#F962DD"/>
<circle cx="280.6" cy="480.4" r="2.7" fill="#F962DD"/>
<circle cx="282.6" cy="453.0" r="2.7" fill="#F962DD"/>
<circle cx="285.6" cy="462.4" r="2.7" fill="#F962DD"/>
<circle cx="288.0" cy="463.0" r="2.7" fill="#F962DD"/>
<circle cx="293.0" cy="482.0" r="2.7" fill="#F962DD"/>
<circle cx="296.4" cy="461.6" r="2.7" fill="#F962DD"/>
<circle cx="301.0" cy="462.0" r="2.7" fill="#F962DD"/>
<circle cx="303.0" cy="488.6" r="2.7" fill="#F962DD"/>
<circle cx="305.0" cy="472.6" r="2.7" fill="#F962DD"/>
<circle cx="308.6" cy="438.8" r="2.7" fill="#F962DD"/>
<circle cx="311.2" cy="436.6" r="2.7" fill="#F962DD"/>
<circle cx="313.5" cy="427.2" r="2.7" fill="#F962DD"/>
<circle cx="316.1" cy="428.8" r="2.7" fill="#F962DD"/>
<circle cx="318.0" cy="441.1" r="2.7" fill="#F962DD"/>
<circle cx="321.4" cy="429.1" r="2.7" fill="#F962DD"/>
<circle cx="324.3" cy="453.8" r="2.7" fill="#F962DD"/>
<circle cx="328.9" cy="412.7" r="2.7" fill="#F962DD"/>
<circle cx="331.5" cy="419.3" r="2.7" fill="#F962DD"/>
<circle cx="334.1" cy="404.8" r="2.7" fill="#F962DD"/>
<circle cx="336.8" cy="418.6" r="2.7" fill="#F962DD"/>
<circle cx="339.4" cy="462.8" r="2.7" fill="#F962DD"/>
<circle cx="341.2" cy="418.2" r="2.7" fill="#F962DD"/>
<circle cx="344.6" cy="423.1" r="2.7" fill="#F962DD"/>
<circle cx="346.9" cy="405.9" r="2.7" fill="#F962DD"/>
<circle cx="349.5" cy="431.0" r="2.7" fill="#F962DD"/>
<circle cx="352.5" cy="413.8" r="2.7" fill="#F962DD"/>
<circle cx="354.8" cy="428.3" r="2.7" fill="#F962DD"/>
<circle cx="357.4" cy="418.2" r="2.7" fill="#F962DD"/>
<circle cx="360.0" cy="410.0" r="2.7" fill="#F962DD"/>
<circle cx="362.2" cy="427.6" r="2.7" fill="#F962DD"/>
<circle cx="365.2" cy="415.6" r="2.7" fill="#F962DD"/>
<circle cx="367.9" cy="406.7" r="2.7" fill="#F962DD"/>
<circle cx="370.1" cy="427.6" r="2.7" fill="#F962DD"/>
<circle cx="373.5" cy="405.5" r="2.7" fill="#F962DD"/>
<circle cx="375.4" cy="394.2" r="2.7" fill="#F962DD"/>
<circle cx="377.7" cy="423.5" r="2.7" fill="#F962DD"/>
<circle cx="380.6" cy="441.8" r="2.7" fill="#F962DD"/>
<circle cx="383.2" cy="447.2" r="2.7" fill="#F962DD"/>
<circle cx="385.9" cy="417.5" r="2.7" fill="#F962DD"/>
<circle cx="387.8" cy="404.8" r="2.7" fill="#F962DD"/>
<circle cx="390.0" cy="398.0" r="2.7" fill="#F962DD"/>
<circle cx="431.2" cy="362.2" r="2.7" fill="#F962DD"/>
<circle cx="439.4" cy="364.4" r="2.7" fill="#F962DD"/>
<circle cx="445.0" cy="363.1" r="2.7" fill="#F962DD"/>
<circle cx="457.5" cy="358.5" r="2.7" fill="#F962DD"/>
<circle cx="452.5" cy="368.8" r="2.7" fill="#F962DD"/>
<circle cx="447.5" cy="376.2" r="2.7" fill="#F962DD"/>
<circle cx="428.8" cy="378.8" r="2.7" fill="#F962DD"/>
<circle cx="424.4" cy="384.4" r="2.7" fill="#F962DD"/>
<circle cx="434.4" cy="379.8" r="2.7" fill="#F962DD"/>
<circle cx="442.5" cy="383.1" r="2.7" fill="#F962DD"/>
<circle cx="461.2" cy="371.9" r="2.7" fill="#F962DD"/>
<circle cx="465.0" cy="363.8" r="2.7" fill="#F962DD"/>
<circle cx="473.1" cy="375.0" r="2.7" fill="#F962DD"/>
<circle cx="478.8" cy="376.2" r="2.7" fill="#F962DD"/>
<circle cx="493.8" cy="370.6" r="2.7" fill="#F962DD"/>
<circle cx="496.2" cy="375.0" r="2.7" fill="#F962DD"/>
<circle cx="503.8" cy="373.1" r="2.7" fill="#F962DD"/>
<circle cx="508.8" cy="376.2" r="2.7" fill="#F962DD"/>
<circle cx="511.9" cy="365.0" r="2.7" fill="#F962DD"/>
<circle cx="514.4" cy="361.9" r="2.7" fill="#F962DD"/>
<circle cx="519.4" cy="356.9" r="2.7" fill="#F962DD"/>
<circle cx="517.5" cy="370.0" r="2.7" fill="#F962DD"/>
<circle cx="525.0" cy="357.5" r="2.7" fill="#F962DD"/>
<circle cx="527.5" cy="353.1" r="2.7" fill="#F962DD"/>
<circle cx="521.9" cy="328.1" r="2.7" fill="#F962DD"/>
<circle cx="481.2" cy="386.9" r="2.7" fill="#F962DD"/>
<circle cx="491.2" cy="386.2" r="2.7" fill="#F962DD"/>
<circle cx="393.8" cy="429.8" r="2.7" fill="#F962DD"/>
<circle cx="395.6" cy="422.8" r="2.7" fill="#F962DD"/>
<circle cx="398.5" cy="408.1" r="2.7" fill="#F962DD"/>
<circle cx="401.2" cy="440.0" r="2.7" fill="#F962DD"/>
<circle cx="403.5" cy="446.2" r="2.7" fill="#F962DD"/>
<circle cx="406.2" cy="416.5" r="2.7" fill="#F962DD"/>
<circle cx="408.8" cy="409.4" r="2.7" fill="#F962DD"/>
<circle cx="411.6" cy="418.8" r="2.7" fill="#F962DD"/>
<circle cx="413.8" cy="440.2" r="2.7" fill="#F962DD"/>
<circle cx="416.6" cy="413.8" r="2.7" fill="#F962DD"/>
<circle cx="419.4" cy="406.9" r="2.7" fill="#F962DD"/>
<circle cx="421.5" cy="396.2" r="2.7" fill="#F962DD"/>
<circle cx="426.9" cy="380.6" r="2.7" fill="#F962DD"/>
<circle cx="434.6" cy="409.0" r="2.7" fill="#F962DD"/>
<circle cx="437.5" cy="391.5" r="2.7" fill="#F962DD"/>
<circle cx="450.0" cy="378.1" r="2.7" fill="#F962DD"/>
<circle cx="452.5" cy="428.8" r="2.7" fill="#F962DD"/>
<circle cx="457.5" cy="404.4" r="2.7" fill="#F962DD"/>
<circle cx="468.1" cy="399.4" r="2.7" fill="#F962DD"/>
<circle cx="483.5" cy="393.1" r="2.7" fill="#F962DD"/>
<circle cx="488.8" cy="398.5" r="2.7" fill="#F962DD"/>
<circle cx="498.8" cy="388.8" r="2.7" fill="#F962DD"/>
<circle cx="501.5" cy="389.0" r="2.7" fill="#F962DD"/>
<circle cx="508.8" cy="390.6" r="2.7" fill="#F962DD"/>
<circle cx="522.2" cy="395.0" r="2.7" fill="#F962DD"/>
<circle cx="465.2" cy="423.1" r="2.7" fill="#F962DD"/>
<circle cx="428.1" cy="326.9" r="2.7" fill="#FF65AC"/>
<circle cx="431.9" cy="329.4" r="2.7" fill="#FF65AC"/>
<circle cx="445.0" cy="328.8" r="2.7" fill="#FF65AC"/>
<circle cx="448.8" cy="331.2" r="2.7" fill="#FF65AC"/>
<circle cx="455.0" cy="341.9" r="2.7" fill="#FF65AC"/>
<circle cx="451.9" cy="345.6" r="2.7" fill="#FF65AC"/>
<circle cx="442.5" cy="353.1" r="2.7" fill="#FF65AC"/>
<circle cx="428.8" cy="344.4" r="2.7" fill="#FF65AC"/>
<circle cx="462.5" cy="327.5" r="2.7" fill="#FF65AC"/>
<circle cx="470.0" cy="310.0" r="2.7" fill="#FF65AC"/>
<circle cx="473.1" cy="306.9" r="2.7" fill="#FF65AC"/>
<circle cx="478.8" cy="305.6" r="2.7" fill="#FF65AC"/>
<circle cx="475.6" cy="312.5" r="2.7" fill="#FF65AC"/>
<circle cx="493.8" cy="313.1" r="2.7" fill="#FF65AC"/>
<circle cx="496.2" cy="320.6" r="2.7" fill="#FF65AC"/>
<circle cx="503.8" cy="320.0" r="2.7" fill="#FF65AC"/>
<circle cx="481.2" cy="333.1" r="2.7" fill="#FF65AC"/>
<circle cx="483.8" cy="335.0" r="2.7" fill="#FF65AC"/>
<circle cx="488.8" cy="344.4" r="2.7" fill="#FF65AC"/>
<circle cx="500.0" cy="336.9" r="2.7" fill="#FF65AC"/>
<circle cx="508.8" cy="332.5" r="2.7" fill="#FF65AC"/>
<circle cx="514.4" cy="307.5" r="2.7" fill="#FF65AC"/>
<circle cx="519.4" cy="301.2" r="2.7" fill="#FF65AC"/>
<circle cx="525.0" cy="295.6" r="2.7" fill="#FF65AC"/>
<circle cx="528.1" cy="295.6" r="2.7" fill="#FF65AC"/>
<circle cx="434.6" cy="379.8" r="2.7" fill="#FF65AC"/>
</g>
<g id="sm">
<path d="M165.6,267.1C166.2,266.6 167.9,264.9 169.0,263.9C170.1,262.9 170.8,262.4 172.0,261.1C173.2,259.8 174.7,257.9 176.0,256.3C177.3,254.7 178.3,253.2 180.0,251.4C181.7,249.6 184.2,246.9 186.0,245.4C187.8,244.0 189.0,243.2 191.0,242.9C193.0,242.5 195.5,243.4 198.0,243.5C200.5,243.6 203.7,243.9 206.0,243.5C208.3,243.2 209.8,242.7 212.0,241.6C214.2,240.4 216.7,238.8 219.0,236.6C221.3,234.4 223.8,231.1 226.0,228.6C228.2,226.1 230.0,223.5 232.0,221.7C234.0,219.8 236.2,218.5 238.0,217.7C239.8,216.9 241.0,216.7 243.0,216.7C245.0,216.7 247.7,217.5 250.0,217.6C252.3,217.6 254.8,217.8 257.0,217.2C259.2,216.6 260.8,215.6 263.0,213.8C265.2,212.1 267.8,209.2 270.0,206.9C272.2,204.6 274.0,202.1 276.0,199.9C278.0,197.8 280.0,195.4 282.0,194.0C284.0,192.6 285.7,191.9 288.0,191.6C290.3,191.3 293.3,192.0 296.0,192.1C298.7,192.2 301.7,192.5 304.0,192.1C306.3,191.8 308.8,190.8 310.0,190.2C311.2,189.5 310.0,189.3 311.0,188.2C312.0,187.0 314.2,185.4 316.0,183.2C317.8,181.1 320.0,177.8 322.0,175.3C324.0,172.8 326.0,169.9 328.0,168.3C330.0,166.7 331.7,166.0 334.0,165.8C336.3,165.5 339.3,166.4 342.0,166.6C344.7,166.8 347.5,167.4 350.0,167.1C352.5,166.7 354.7,165.9 357.0,164.5C359.3,163.1 361.8,160.9 364.0,158.6C366.2,156.3 368.0,152.9 370.0,150.6C372.0,148.3 374.0,146.2 376.0,144.7C378.0,143.1 380.0,142.0 382.0,141.3C384.0,140.7 385.7,140.7 388.0,140.8C390.3,140.8 393.7,141.8 396.0,141.8C398.3,141.8 400.0,141.5 402.0,140.7C404.0,140.0 406.0,138.9 408.0,137.2C410.0,135.5 412.0,133.0 414.0,130.6C416.0,128.1 418.2,124.7 420.0,122.5C421.8,120.2 423.3,118.4 425.0,117.0C426.7,115.6 428.2,114.8 430.0,114.3C431.8,113.9 433.7,114.1 436.0,114.2C438.3,114.4 441.7,115.2 444.0,115.1C446.3,115.1 448.2,114.7 450.0,114.0C451.8,113.3 453.3,112.1 455.0,110.9C456.7,109.7 458.8,108.2 460.0,106.8C461.2,105.3 461.3,103.8 462.5,101.9C463.7,100.1 465.5,97.6 467.0,95.8C468.5,94.1 470.0,92.4 471.5,91.2C473.0,90.0 474.5,89.2 476.0,88.6C477.5,88.0 479.0,87.6 480.5,87.6C482.0,87.6 483.2,88.2 485.0,88.4C486.8,88.6 489.0,89.0 491.0,88.9C493.0,88.8 495.2,88.4 497.0,87.8C498.8,87.3 500.0,86.6 501.5,85.6C503.0,84.6 504.5,83.3 506.0,81.8C507.5,80.3 509.0,78.3 510.5,76.6C512.0,74.8 513.5,73.1 515.0,71.3C516.5,69.6 518.1,67.6 519.5,66.2C520.9,64.8 522.0,63.9 523.2,63.0C524.5,62.1 526.1,61.3 526.7,61.0L526.7,78.0C526.1,78.3 524.5,78.9 523.2,79.6C522.0,80.3 520.9,81.2 519.5,82.4C518.1,83.7 516.5,85.5 515.0,87.2C513.5,88.8 512.0,90.7 510.5,92.4C509.0,94.2 507.5,96.2 506.0,97.7C504.5,99.2 503.0,100.4 501.5,101.4C500.0,102.4 498.8,103.1 497.0,103.7C495.2,104.2 493.0,104.6 491.0,104.7C489.0,104.8 486.8,104.3 485.0,104.0C483.2,103.7 482.0,103.0 480.5,103.0C479.0,103.0 477.5,103.3 476.0,103.8C474.5,104.4 473.0,105.1 471.5,106.3C470.0,107.4 468.5,108.9 467.0,110.7C465.5,112.4 463.7,114.8 462.5,116.6C461.3,118.3 461.2,119.8 460.0,121.2C458.8,122.7 456.7,124.0 455.0,125.1C453.3,126.3 451.8,127.4 450.0,128.0C448.2,128.6 446.3,128.9 444.0,128.9C441.7,128.8 438.3,128.0 436.0,127.8C433.7,127.5 431.8,127.3 430.0,127.7C428.2,128.1 426.7,128.9 425.0,130.2C423.3,131.5 421.8,133.3 420.0,135.5C418.2,137.7 416.0,141.0 414.0,143.4C412.0,145.9 410.0,148.3 408.0,150.0C406.0,151.6 404.0,152.6 402.0,153.3C400.0,154.0 398.3,154.2 396.0,154.2C393.7,154.2 390.3,153.3 388.0,153.2C385.7,153.2 384.0,153.2 382.0,153.9C380.0,154.6 378.0,155.8 376.0,157.3C374.0,158.9 372.0,161.0 370.0,163.4C368.0,165.7 366.2,169.1 364.0,171.4C361.8,173.8 359.3,176.0 357.0,177.5C354.7,178.9 352.5,179.7 350.0,180.1C347.5,180.5 344.7,180.0 342.0,179.8C339.3,179.6 336.3,178.7 334.0,179.0C331.7,179.4 330.0,180.1 328.0,181.7C326.0,183.3 324.0,186.2 322.0,188.7C320.0,191.2 317.8,194.6 316.0,196.8C314.2,199.0 312.0,200.6 311.0,201.8C310.0,203.0 311.2,203.1 310.0,203.8C308.8,204.5 306.3,205.5 304.0,205.9C301.7,206.2 298.7,206.0 296.0,205.9C293.3,205.9 290.3,205.2 288.0,205.6C285.7,205.9 284.0,206.6 282.0,208.0C280.0,209.4 278.0,211.9 276.0,214.1C274.0,216.2 272.2,218.8 270.0,221.1C267.8,223.5 265.2,226.4 263.0,228.2C260.8,229.9 259.2,231.0 257.0,231.6C254.8,232.2 252.3,232.1 250.0,232.1C247.7,232.0 245.0,231.2 243.0,231.3C241.0,231.3 239.8,231.5 238.0,232.3C236.2,233.2 234.0,234.5 232.0,236.3C230.0,238.2 228.2,240.9 226.0,243.4C223.8,245.9 221.3,249.2 219.0,251.4C216.7,253.6 214.2,255.3 212.0,256.4C209.8,257.6 208.3,258.1 206.0,258.5C203.7,258.8 200.5,258.6 198.0,258.5C195.5,258.4 193.0,257.6 191.0,257.9C189.0,258.3 187.8,259.1 186.0,260.6C184.2,262.0 181.7,264.7 180.0,266.6C178.3,268.4 177.3,270.0 176.0,271.7C174.7,273.4 173.2,275.5 172.0,276.9C170.8,278.3 170.1,279.0 169.0,280.1C167.9,281.2 166.2,283.1 165.6,283.7Z" fill="#999999" fill-opacity="0.4"/>
<path d="M165.6,275.4C166.2,274.8 167.9,273.1 169.0,272.0C170.1,270.9 170.8,270.3 172.0,269.0C173.2,267.7 174.7,265.7 176.0,264.0C177.3,262.3 178.3,260.8 180.0,259.0C181.7,257.2 184.2,254.4 186.0,253.0C187.8,251.6 189.0,250.7 191.0,250.4C193.0,250.1 195.5,250.9 198.0,251.0C200.5,251.1 203.7,251.3 206.0,251.0C208.3,250.7 209.8,250.2 212.0,249.0C214.2,247.8 216.7,246.2 219.0,244.0C221.3,241.8 223.8,238.5 226.0,236.0C228.2,233.5 230.0,230.8 232.0,229.0C234.0,227.2 236.2,225.8 238.0,225.0C239.8,224.2 241.0,224.0 243.0,224.0C245.0,224.0 247.7,224.7 250.0,224.8C252.3,224.9 254.8,225.0 257.0,224.4C259.2,223.8 260.8,222.7 263.0,221.0C265.2,219.3 267.8,216.3 270.0,214.0C272.2,211.7 274.0,209.2 276.0,207.0C278.0,204.8 280.0,202.4 282.0,201.0C284.0,199.6 285.7,198.9 288.0,198.6C290.3,198.3 293.3,198.9 296.0,199.0C298.7,199.1 301.7,199.3 304.0,199.0C306.3,198.7 308.8,197.7 310.0,197.0C311.2,196.3 310.0,196.2 311.0,195.0C312.0,193.8 314.2,192.2 316.0,190.0C317.8,187.8 320.0,184.5 322.0,182.0C324.0,179.5 326.0,176.6 328.0,175.0C330.0,173.4 331.7,172.7 334.0,172.4C336.3,172.1 339.3,173.0 342.0,173.2C344.7,173.4 347.5,174.0 350.0,173.6C352.5,173.2 354.7,172.4 357.0,171.0C359.3,169.6 361.8,167.3 364.0,165.0C366.2,162.7 368.0,159.3 370.0,157.0C372.0,154.7 374.0,152.6 376.0,151.0C378.0,149.4 380.0,148.3 382.0,147.6C384.0,146.9 385.7,146.9 388.0,147.0C390.3,147.1 393.7,148.0 396.0,148.0C398.3,148.0 400.0,147.7 402.0,147.0C404.0,146.3 406.0,145.3 408.0,143.6C410.0,141.9 412.0,139.4 414.0,137.0C416.0,134.6 418.2,131.2 420.0,129.0C421.8,126.8 423.3,124.9 425.0,123.6C426.7,122.3 428.2,121.4 430.0,121.0C431.8,120.6 433.7,120.8 436.0,121.0C438.3,121.2 441.7,122.0 444.0,122.0C446.3,122.0 448.2,121.7 450.0,121.0C451.8,120.3 453.3,119.2 455.0,118.0C456.7,116.8 458.8,115.5 460.0,114.0C461.2,112.5 461.3,111.0 462.5,109.2C463.7,107.5 465.5,105.0 467.0,103.2C468.5,101.5 470.0,99.9 471.5,98.8C473.0,97.6 474.5,96.8 476.0,96.2C477.5,95.6 479.0,95.3 480.5,95.3C482.0,95.3 483.2,96.0 485.0,96.2C486.8,96.5 489.0,96.9 491.0,96.8C493.0,96.7 495.2,96.3 497.0,95.8C498.8,95.2 500.0,94.5 501.5,93.5C503.0,92.5 504.5,91.2 506.0,89.8C507.5,88.2 509.0,86.2 510.5,84.5C512.0,82.8 513.5,81.0 515.0,79.2C516.5,77.5 518.1,75.6 519.5,74.3C520.9,73.0 522.0,72.1 523.2,71.3C524.5,70.5 526.1,69.8 526.7,69.5" fill="none" stroke="#F8766D" stroke-width="3.8" stroke-linejoin="round"/>
<path d="M93.0,682.7C93.7,682.0 95.7,679.9 97.0,678.7C98.3,677.6 99.5,676.6 101.0,675.8C102.5,675.0 104.2,674.2 106.0,674.0C107.8,673.7 110.0,673.9 112.0,674.1C114.0,674.3 116.0,675.0 118.0,675.2C120.0,675.5 122.0,676.0 124.0,675.6C126.0,675.3 128.0,674.2 130.0,673.0C132.0,671.9 134.0,670.5 136.0,668.6C138.0,666.8 140.2,663.7 142.0,661.7C143.8,659.6 145.3,657.7 147.0,656.3C148.7,654.9 150.2,653.9 152.0,653.3C153.8,652.7 156.0,652.6 158.0,652.7C160.0,652.8 161.8,653.4 164.0,653.7C166.2,654.0 168.8,654.7 171.0,654.3C173.2,654.0 175.0,653.0 177.0,651.8C179.0,650.5 181.0,648.6 183.0,646.8C185.0,644.9 187.0,642.6 189.0,640.8C191.0,638.9 193.2,637.1 195.0,635.8C196.8,634.5 198.2,633.8 200.0,633.2C201.8,632.6 204.0,632.4 206.0,632.4C208.0,632.5 210.0,633.1 212.0,633.4C214.0,633.7 216.0,634.3 218.0,634.2C220.0,634.2 222.0,633.8 224.0,632.9C226.0,632.0 228.2,630.5 230.0,628.9C231.8,627.2 233.3,624.7 235.0,622.9C236.7,621.1 238.3,619.4 240.0,617.9C241.7,616.4 243.3,614.8 245.0,613.9C246.7,613.0 248.2,612.5 250.0,612.3C251.8,612.2 254.0,612.7 256.0,613.0C258.0,613.2 260.0,613.9 262.0,614.0C264.0,614.1 266.0,614.1 268.0,613.6C270.0,613.1 272.0,612.4 274.0,611.0C276.0,609.6 278.2,607.0 280.0,605.0C281.8,603.0 283.3,600.8 285.0,599.0C286.7,597.2 288.3,595.3 290.0,594.0C291.7,592.8 293.2,592.1 295.0,591.6C296.8,591.2 299.0,591.0 301.0,591.1C303.0,591.1 305.0,591.7 307.0,592.1C309.0,592.4 311.0,593.1 313.0,593.1C315.0,593.1 317.2,592.9 319.0,592.1C320.8,591.3 322.3,589.8 324.0,588.1C325.7,586.4 327.3,584.1 329.0,582.1C330.7,580.1 332.3,577.8 334.0,576.1C335.7,574.4 337.3,573.1 339.0,572.1C340.7,571.1 342.2,570.3 344.0,570.1C345.8,569.9 348.0,570.4 350.0,570.7C352.0,571.0 354.0,571.5 356.0,571.7C358.0,571.9 360.0,572.4 362.0,572.1C364.0,571.8 366.2,571.1 368.0,570.1C369.8,569.1 371.3,567.6 373.0,566.1C374.7,564.6 376.3,562.8 378.0,561.1C379.7,559.4 381.3,557.7 383.0,556.1C384.7,554.5 386.8,552.5 388.0,551.5C389.2,550.5 388.8,550.7 390.0,550.1C391.2,549.5 393.3,548.3 395.0,548.1C396.7,547.9 398.2,548.3 400.0,548.7C401.8,549.1 404.0,550.3 406.0,550.7C408.0,551.1 410.2,551.5 412.0,551.1C413.8,550.7 415.3,549.4 417.0,548.1C418.7,546.8 420.3,544.9 422.0,543.1C423.7,541.3 425.3,538.9 427.0,537.1C428.7,535.3 430.3,533.5 432.0,532.1C433.7,530.7 435.3,529.5 437.0,528.7C438.7,527.9 440.2,527.5 442.0,527.5C443.8,527.5 446.0,528.3 448.0,528.7C450.0,529.1 452.0,530.0 454.0,530.1C456.0,530.2 458.2,530.1 460.0,529.5C461.8,528.9 463.3,527.9 465.0,526.7C466.7,525.5 468.3,523.9 470.0,522.1C471.7,520.3 473.3,517.9 475.0,516.1C476.7,514.3 478.3,512.5 480.0,511.1C481.7,509.7 483.3,508.4 485.0,507.7C486.7,507.0 488.2,506.7 490.0,506.7C491.8,506.7 494.0,507.2 496.0,507.5C498.0,507.8 500.0,508.5 502.0,508.7C504.0,508.8 506.2,508.9 508.0,508.5C509.8,508.1 511.3,507.3 513.0,506.4C514.7,505.4 516.3,504.2 518.0,502.6C519.7,501.1 521.5,499.0 523.0,497.2C524.5,495.3 526.3,492.5 527.0,491.6L527.0,504.4C526.3,505.1 524.5,507.3 523.0,508.8C521.5,510.3 519.7,512.0 518.0,513.4C516.3,514.7 514.7,515.9 513.0,516.8C511.3,517.7 509.8,518.4 508.0,518.7C506.2,519.0 504.0,518.8 502.0,518.6C500.0,518.3 498.0,517.6 496.0,517.3C494.0,517.0 491.8,516.5 490.0,516.5C488.2,516.5 486.7,516.8 485.0,517.5C483.3,518.2 481.7,519.5 480.0,520.9C478.3,522.3 476.7,524.1 475.0,525.9C473.3,527.7 471.7,530.1 470.0,531.9C468.3,533.7 466.7,535.3 465.0,536.5C463.3,537.7 461.8,538.7 460.0,539.3C458.2,539.9 456.0,540.0 454.0,539.9C452.0,539.8 450.0,538.9 448.0,538.5C446.0,538.1 443.8,537.3 442.0,537.3C440.2,537.3 438.7,537.7 437.0,538.5C435.3,539.3 433.7,540.5 432.0,541.9C430.3,543.3 428.7,545.1 427.0,546.9C425.3,548.7 423.7,551.1 422.0,552.9C420.3,554.7 418.7,556.6 417.0,557.9C415.3,559.2 413.8,560.5 412.0,560.9C410.2,561.3 408.0,560.9 406.0,560.5C404.0,560.1 401.8,558.9 400.0,558.5C398.2,558.1 396.7,557.7 395.0,557.9C393.3,558.1 391.2,559.3 390.0,559.9C388.8,560.5 389.2,560.3 388.0,561.3C386.8,562.3 384.7,564.3 383.0,565.9C381.3,567.5 379.7,569.2 378.0,570.9C376.3,572.6 374.7,574.4 373.0,575.9C371.3,577.4 369.8,578.9 368.0,579.9C366.2,580.9 364.0,581.6 362.0,581.9C360.0,582.2 358.0,581.7 356.0,581.5C354.0,581.3 352.0,580.8 350.0,580.5C348.0,580.2 345.8,579.7 344.0,579.9C342.2,580.1 340.7,580.9 339.0,581.9C337.3,582.9 335.7,584.2 334.0,585.9C332.3,587.6 330.7,589.9 329.0,591.9C327.3,593.9 325.7,596.2 324.0,597.9C322.3,599.6 320.8,601.1 319.0,601.9C317.2,602.7 315.0,602.9 313.0,602.9C311.0,602.9 309.0,602.2 307.0,601.9C305.0,601.6 303.0,601.0 301.0,600.9C299.0,600.9 296.8,601.0 295.0,601.6C293.2,602.1 291.7,602.7 290.0,604.0C288.3,605.2 286.7,607.1 285.0,609.0C283.3,610.8 281.8,613.0 280.0,615.0C278.2,617.0 276.0,619.6 274.0,621.0C272.0,622.4 270.0,623.1 268.0,623.6C266.0,624.1 264.0,624.1 262.0,624.0C260.0,623.9 258.0,623.3 256.0,623.0C254.0,622.8 251.8,622.3 250.0,622.5C248.2,622.6 246.7,623.1 245.0,624.1C243.3,625.0 241.7,626.6 240.0,628.1C238.3,629.6 236.7,631.3 235.0,633.1C233.3,634.9 231.8,637.4 230.0,639.1C228.2,640.8 226.0,642.2 224.0,643.1C222.0,644.0 220.0,644.4 218.0,644.5C216.0,644.7 214.0,644.1 212.0,643.8C210.0,643.5 208.0,642.8 206.0,642.8C204.0,642.8 201.8,643.0 200.0,643.6C198.2,644.2 196.8,644.9 195.0,646.2C193.2,647.5 191.0,649.4 189.0,651.2C187.0,653.1 185.0,655.4 183.0,657.2C181.0,659.1 179.0,661.0 177.0,662.2C175.0,663.5 173.2,664.5 171.0,664.9C168.8,665.2 166.2,664.5 164.0,664.3C161.8,664.0 160.0,663.4 158.0,663.3C156.0,663.2 153.8,663.3 152.0,663.9C150.2,664.5 148.7,665.5 147.0,666.9C145.3,668.3 143.8,670.3 142.0,672.3C140.2,674.4 138.0,677.4 136.0,679.4C134.0,681.3 132.0,682.6 130.0,683.8C128.0,684.9 126.0,686.0 124.0,686.4C122.0,686.8 120.0,686.2 118.0,686.0C116.0,685.8 114.0,685.2 112.0,685.1C110.0,685.0 107.8,684.9 106.0,685.2C104.2,685.6 102.5,686.4 101.0,687.4C99.5,688.4 98.3,689.7 97.0,691.3C95.7,692.8 93.7,695.6 93.0,696.5Z" fill="#999999" fill-opacity="0.4"/>
<path d="M93.0,689.6C93.7,688.8 95.7,686.3 97.0,685.0C98.3,683.7 99.5,682.5 101.0,681.6C102.5,680.7 104.2,679.9 106.0,679.6C107.8,679.3 110.0,679.4 112.0,679.6C114.0,679.8 116.0,680.4 118.0,680.6C120.0,680.8 122.0,681.4 124.0,681.0C126.0,680.6 128.0,679.6 130.0,678.4C132.0,677.2 134.0,675.9 136.0,674.0C138.0,672.1 140.2,669.1 142.0,667.0C143.8,664.9 145.3,663.0 147.0,661.6C148.7,660.2 150.2,659.2 152.0,658.6C153.8,658.0 156.0,657.9 158.0,658.0C160.0,658.1 161.8,658.7 164.0,659.0C166.2,659.3 168.8,659.9 171.0,659.6C173.2,659.3 175.0,658.3 177.0,657.0C179.0,655.7 181.0,653.8 183.0,652.0C185.0,650.2 187.0,647.8 189.0,646.0C191.0,644.2 193.2,642.3 195.0,641.0C196.8,639.7 198.2,639.0 200.0,638.4C201.8,637.8 204.0,637.6 206.0,637.6C208.0,637.6 210.0,638.3 212.0,638.6C214.0,638.9 216.0,639.5 218.0,639.4C220.0,639.3 222.0,638.9 224.0,638.0C226.0,637.1 228.2,635.7 230.0,634.0C231.8,632.3 233.3,629.8 235.0,628.0C236.7,626.2 238.3,624.5 240.0,623.0C241.7,621.5 243.3,619.9 245.0,619.0C246.7,618.1 248.2,617.6 250.0,617.4C251.8,617.2 254.0,617.7 256.0,618.0C258.0,618.3 260.0,618.9 262.0,619.0C264.0,619.1 266.0,619.1 268.0,618.6C270.0,618.1 272.0,617.4 274.0,616.0C276.0,614.6 278.2,612.0 280.0,610.0C281.8,608.0 283.3,605.8 285.0,604.0C286.7,602.2 288.3,600.2 290.0,599.0C291.7,597.8 293.2,597.1 295.0,596.6C296.8,596.1 299.0,595.9 301.0,596.0C303.0,596.1 305.0,596.7 307.0,597.0C309.0,597.3 311.0,598.0 313.0,598.0C315.0,598.0 317.2,597.8 319.0,597.0C320.8,596.2 322.3,594.7 324.0,593.0C325.7,591.3 327.3,589.0 329.0,587.0C330.7,585.0 332.3,582.7 334.0,581.0C335.7,579.3 337.3,578.0 339.0,577.0C340.7,576.0 342.2,575.2 344.0,575.0C345.8,574.8 348.0,575.3 350.0,575.6C352.0,575.9 354.0,576.4 356.0,576.6C358.0,576.8 360.0,577.3 362.0,577.0C364.0,576.7 366.2,576.0 368.0,575.0C369.8,574.0 371.3,572.5 373.0,571.0C374.7,569.5 376.3,567.7 378.0,566.0C379.7,564.3 381.3,562.6 383.0,561.0C384.7,559.4 386.8,557.4 388.0,556.4C389.2,555.4 388.8,555.6 390.0,555.0C391.2,554.4 393.3,553.2 395.0,553.0C396.7,552.8 398.2,553.2 400.0,553.6C401.8,554.0 404.0,555.2 406.0,555.6C408.0,556.0 410.2,556.4 412.0,556.0C413.8,555.6 415.3,554.3 417.0,553.0C418.7,551.7 420.3,549.8 422.0,548.0C423.7,546.2 425.3,543.8 427.0,542.0C428.7,540.2 430.3,538.4 432.0,537.0C433.7,535.6 435.3,534.4 437.0,533.6C438.7,532.8 440.2,532.4 442.0,532.4C443.8,532.4 446.0,533.2 448.0,533.6C450.0,534.0 452.0,534.9 454.0,535.0C456.0,535.1 458.2,535.0 460.0,534.4C461.8,533.8 463.3,532.8 465.0,531.6C466.7,530.4 468.3,528.8 470.0,527.0C471.7,525.2 473.3,522.8 475.0,521.0C476.7,519.2 478.3,517.4 480.0,516.0C481.7,514.6 483.3,513.3 485.0,512.6C486.7,511.9 488.2,511.6 490.0,511.6C491.8,511.6 494.0,512.1 496.0,512.4C498.0,512.7 500.0,513.4 502.0,513.6C504.0,513.8 506.2,513.9 508.0,513.6C509.8,513.3 511.3,512.5 513.0,511.6C514.7,510.7 516.3,509.4 518.0,508.0C519.7,506.6 521.5,504.7 523.0,503.0C524.5,501.3 526.3,498.8 527.0,498.0" fill="none" stroke="#E18A00" stroke-width="3.8" stroke-linejoin="round"/>
<line x1="132.4" y1="658.6" x2="139.4" y2="666.6" stroke="#E18A00" stroke-width="4.6" stroke-linecap="round"/>
<path d="M421.8,170.3C421.9,170.5 421.9,171.3 422.6,171.3C423.3,171.3 424.8,170.3 426.0,170.4C427.2,170.5 428.7,170.9 430.0,171.8C431.3,172.7 432.7,174.4 434.0,176.0C435.3,177.6 436.7,179.7 438.0,181.3C439.3,183.0 440.5,184.5 442.0,185.8C443.5,187.0 445.3,188.4 447.0,188.8C448.7,189.1 450.3,188.6 452.0,187.8C453.7,186.9 455.7,185.1 457.0,183.8C458.3,182.4 458.8,182.2 460.0,179.8C461.2,177.3 463.0,172.2 464.5,169.2C466.0,166.2 467.6,163.6 469.0,161.8C470.4,159.9 471.5,158.8 472.8,158.0C474.0,157.2 475.2,157.0 476.5,157.2C477.8,157.5 478.9,158.1 480.2,159.5C481.6,160.9 483.2,163.6 484.8,165.5C486.2,167.4 487.8,169.3 489.2,170.8C490.8,172.2 492.2,173.4 493.8,174.1C495.2,174.7 496.8,174.9 498.2,174.5C499.8,174.1 501.2,173.1 502.8,171.5C504.2,169.9 505.9,167.1 507.2,164.6C508.6,162.2 509.8,159.4 511.0,156.9C512.2,154.5 513.5,152.0 514.8,150.0C516.0,148.0 517.2,146.1 518.5,144.9C519.8,143.7 520.9,143.0 522.2,142.7C523.6,142.4 526.0,142.8 526.8,142.9L526.8,164.8C526.0,164.4 523.6,163.0 522.2,162.8C520.9,162.6 519.8,162.8 518.5,163.6C517.2,164.4 516.0,165.8 514.8,167.5C513.5,169.3 512.2,171.8 511.0,174.1C509.8,176.4 508.6,179.1 507.2,181.4C505.9,183.7 504.2,186.4 502.8,188.0C501.2,189.6 499.8,190.6 498.2,191.0C496.8,191.4 495.2,191.2 493.8,190.6C492.2,189.9 490.8,188.7 489.2,187.2C487.8,185.8 486.2,183.9 484.8,182.0C483.2,180.1 481.6,177.4 480.2,176.0C478.9,174.6 477.8,174.0 476.5,173.8C475.2,173.5 474.0,173.8 472.8,174.5C471.5,175.2 470.4,176.4 469.0,178.2C467.6,180.1 466.0,182.8 464.5,185.8C463.0,188.8 461.2,193.8 460.0,196.2C458.8,198.7 458.3,198.9 457.0,200.2C455.7,201.6 453.7,203.4 452.0,204.2C450.3,205.1 448.7,205.6 447.0,205.2C445.3,204.9 443.5,203.5 442.0,202.2C440.5,201.0 439.3,199.4 438.0,197.8C436.7,196.3 435.3,194.2 434.0,192.8C432.7,191.4 431.3,189.9 430.0,189.4C428.7,188.9 427.2,189.1 426.0,189.6C424.8,190.2 423.3,192.2 422.6,192.7C421.9,193.1 421.9,192.3 421.8,192.2Z" fill="#999999" fill-opacity="0.4"/>
<path d="M421.8,181.2C421.9,181.4 421.9,182.2 422.6,182.0C423.3,181.8 424.8,180.2 426.0,180.0C427.2,179.8 428.7,179.9 430.0,180.6C431.3,181.3 432.7,182.9 434.0,184.4C435.3,185.9 436.7,188.0 438.0,189.6C439.3,191.2 440.5,192.8 442.0,194.0C443.5,195.2 445.3,196.7 447.0,197.0C448.7,197.3 450.3,196.8 452.0,196.0C453.7,195.2 455.7,193.3 457.0,192.0C458.3,190.7 458.8,190.4 460.0,188.0C461.2,185.6 463.0,180.5 464.5,177.5C466.0,174.5 467.6,171.9 469.0,170.0C470.4,168.1 471.5,167.0 472.8,166.2C474.0,165.5 475.2,165.2 476.5,165.5C477.8,165.8 478.9,166.4 480.2,167.8C481.6,169.1 483.2,171.9 484.8,173.8C486.2,175.6 487.8,177.6 489.2,179.0C490.8,180.4 492.2,181.7 493.8,182.3C495.2,182.9 496.8,183.2 498.2,182.8C499.8,182.3 501.2,181.4 502.8,179.8C504.2,178.1 505.9,175.4 507.2,173.0C508.6,170.6 509.8,167.9 511.0,165.5C512.2,163.1 513.5,160.6 514.8,158.8C516.0,156.9 517.2,155.2 518.5,154.2C519.8,153.2 520.9,152.8 522.2,152.8C523.6,152.7 526.0,153.6 526.8,153.8" fill="none" stroke="#BE9C00" stroke-width="3.8" stroke-linejoin="round"/>
<path d="M159.4,548.4C160.3,548.2 163.1,547.5 165.0,547.0C166.9,546.5 169.0,545.9 171.0,545.2C173.0,544.5 175.0,544.2 177.0,543.0C179.0,541.8 181.0,540.1 183.0,538.1C185.0,536.1 187.0,533.5 189.0,531.2C191.0,528.8 193.0,526.4 195.0,524.2C197.0,522.1 199.0,520.1 201.0,518.3C203.0,516.5 205.0,514.7 207.0,513.4C209.0,512.1 211.0,511.2 213.0,510.4C215.0,509.6 217.0,509.2 219.0,508.5C221.0,507.9 223.0,507.6 225.0,506.6C227.0,505.6 229.0,504.3 231.0,502.6C233.0,501.0 235.0,499.0 237.0,496.7C239.0,494.4 241.0,491.3 243.0,488.8C245.0,486.3 247.0,483.9 249.0,481.9C251.0,479.8 253.0,477.9 255.0,476.5C257.0,475.1 259.0,474.2 261.0,473.4C263.0,472.7 265.0,472.7 267.0,472.2C269.0,471.7 271.2,471.1 273.0,470.3C274.8,469.5 276.3,468.9 278.0,467.4C279.7,466.0 281.3,463.5 283.0,461.6C284.7,459.6 286.3,457.7 288.0,455.7C289.7,453.7 291.3,451.7 293.0,449.8C294.7,447.9 296.0,446.1 298.0,444.3C300.0,442.6 303.4,440.0 305.0,439.1C306.6,438.2 306.1,439.4 307.5,438.9C308.9,438.3 311.5,436.9 313.5,435.9C315.5,435.0 317.5,434.1 319.5,433.0C321.5,431.9 323.5,430.8 325.5,429.4C327.5,427.9 329.8,425.9 331.5,424.2C333.2,422.5 334.5,420.9 336.0,419.0C337.5,417.1 339.0,414.9 340.5,413.1C342.0,411.2 343.5,409.4 345.0,407.9C346.5,406.4 348.0,405.2 349.5,404.2C351.0,403.2 352.5,402.6 354.0,402.0C355.5,401.4 357.0,401.0 358.5,400.5C360.0,400.0 361.5,399.4 363.0,399.0C364.5,398.6 366.0,398.5 367.5,398.0C369.0,397.5 370.5,396.9 372.0,396.1C373.5,395.3 375.0,394.3 376.5,393.1C378.0,391.9 379.5,390.4 381.0,388.6C382.5,386.9 384.0,384.6 385.5,382.6C387.0,380.7 388.4,378.9 390.0,376.7C391.6,374.4 393.1,371.2 395.0,369.2C396.9,367.2 399.2,366.0 401.2,364.9C403.3,363.7 405.4,363.1 407.5,362.4C409.6,361.7 411.7,361.4 413.8,360.6C415.8,359.7 417.9,358.8 420.0,357.5C422.1,356.1 424.4,354.3 426.2,352.5C428.1,350.7 429.6,348.8 431.2,346.9C432.9,344.9 434.6,342.6 436.2,340.6C437.9,338.6 439.6,336.6 441.2,335.0C442.9,333.3 444.6,331.7 446.2,330.6C447.9,329.5 449.4,328.8 451.2,328.1C453.1,327.4 455.4,327.0 457.5,326.2C459.6,325.5 461.7,324.7 463.8,323.7C465.8,322.8 468.1,322.6 470.0,320.6C471.9,318.6 473.1,314.2 475.0,311.9C476.9,309.5 479.1,308.5 481.2,306.2C483.4,303.9 486.0,300.2 488.0,298.1C490.0,296.0 491.2,294.9 493.0,293.6C494.8,292.4 497.0,291.5 499.0,290.6C501.0,289.7 503.0,289.1 505.0,288.4C507.0,287.8 509.2,287.5 511.0,286.7C512.8,285.9 514.5,284.7 516.0,283.6C517.5,282.5 518.7,281.5 520.0,280.2C521.3,278.8 522.8,277.0 524.0,275.5C525.2,274.0 526.5,271.8 527.0,271.0L527.0,289.0C526.5,289.6 525.2,291.4 524.0,292.5C522.8,293.6 521.3,294.8 520.0,295.8C518.7,296.8 517.5,297.5 516.0,298.4C514.5,299.3 512.8,300.6 511.0,301.3C509.2,302.0 507.0,302.0 505.0,302.6C503.0,303.1 501.0,303.6 499.0,304.4C497.0,305.2 494.8,306.1 493.0,307.4C491.2,308.6 490.0,309.8 488.0,311.9C486.0,314.0 483.4,317.7 481.2,320.0C479.1,322.3 476.9,323.3 475.0,325.6C473.1,328.0 471.9,332.4 470.0,334.4C468.1,336.4 465.8,336.6 463.8,337.5C461.7,338.5 459.6,339.3 457.5,340.0C455.4,340.8 453.1,341.2 451.2,341.9C449.4,342.6 447.9,343.3 446.2,344.4C444.6,345.5 442.9,347.1 441.2,348.8C439.6,350.4 437.9,352.4 436.2,354.4C434.6,356.4 432.9,358.7 431.2,360.6C429.6,362.6 428.1,364.5 426.2,366.3C424.4,368.1 422.1,369.9 420.0,371.3C417.9,372.6 415.8,373.6 413.8,374.4C411.7,375.3 409.6,375.6 407.5,376.4C405.4,377.1 403.3,377.7 401.2,378.9C399.2,380.0 396.9,381.3 395.0,383.3C393.1,385.3 391.6,388.6 390.0,390.8C388.4,393.1 387.0,394.8 385.5,396.9C384.0,398.9 382.5,401.1 381.0,402.9C379.5,404.6 378.0,406.1 376.5,407.4C375.0,408.7 373.5,409.6 372.0,410.4C370.5,411.3 369.0,411.9 367.5,412.4C366.0,412.9 364.5,413.0 363.0,413.5C361.5,413.9 360.0,414.5 358.5,415.0C357.0,415.5 355.5,415.9 354.0,416.5C352.5,417.2 351.0,417.8 349.5,418.8C348.0,419.8 346.5,421.1 345.0,422.6C343.5,424.1 342.0,426.0 340.5,427.9C339.0,429.8 337.5,432.1 336.0,434.0C334.5,435.9 333.2,437.5 331.5,439.3C329.8,441.1 327.5,443.1 325.5,444.6C323.5,446.2 321.5,447.3 319.5,448.5C317.5,449.6 315.5,450.5 313.5,451.6C311.5,452.6 308.9,454.1 307.5,454.6C306.1,455.2 306.6,454.0 305.0,454.9C303.4,455.9 300.0,458.6 298.0,460.4C296.0,462.3 294.7,464.2 293.0,466.2C291.3,468.2 289.7,470.3 288.0,472.3C286.3,474.3 284.7,476.4 283.0,478.4C281.3,480.5 279.7,483.0 278.0,484.6C276.3,486.1 274.8,486.8 273.0,487.7C271.2,488.6 269.0,489.2 267.0,489.8C265.0,490.4 263.0,490.6 261.0,491.4C259.0,492.2 257.0,493.2 255.0,494.7C253.0,496.1 251.0,498.0 249.0,500.1C247.0,502.2 245.0,504.7 243.0,507.2C241.0,509.7 239.0,512.9 237.0,515.3C235.0,517.6 233.0,519.7 231.0,521.4C229.0,523.0 227.0,524.4 225.0,525.4C223.0,526.4 221.0,526.8 219.0,527.5C217.0,528.2 215.0,528.7 213.0,529.6C211.0,530.4 209.0,531.3 207.0,532.6C205.0,534.0 203.0,535.8 201.0,537.7C199.0,539.6 197.0,541.6 195.0,543.8C193.0,546.0 191.0,548.5 189.0,550.8C187.0,553.2 185.0,555.9 183.0,557.9C181.0,559.9 179.0,561.6 177.0,563.0C175.0,564.3 173.0,565.0 171.0,566.0C169.0,567.0 166.9,567.9 165.0,569.0C163.1,570.1 160.3,571.8 159.4,572.4Z" fill="#999999" fill-opacity="0.4"/>
<path d="M159.4,560.4C160.3,560.0 163.1,558.8 165.0,558.0C166.9,557.2 169.0,556.4 171.0,555.6C173.0,554.8 175.0,554.3 177.0,553.0C179.0,551.7 181.0,550.0 183.0,548.0C185.0,546.0 187.0,543.3 189.0,541.0C191.0,538.7 193.0,536.2 195.0,534.0C197.0,531.8 199.0,529.8 201.0,528.0C203.0,526.2 205.0,524.3 207.0,523.0C209.0,521.7 211.0,520.8 213.0,520.0C215.0,519.2 217.0,518.7 219.0,518.0C221.0,517.3 223.0,517.0 225.0,516.0C227.0,515.0 229.0,513.7 231.0,512.0C233.0,510.3 235.0,508.3 237.0,506.0C239.0,503.7 241.0,500.5 243.0,498.0C245.0,495.5 247.0,493.1 249.0,491.0C251.0,488.9 253.0,487.0 255.0,485.6C257.0,484.2 259.0,483.2 261.0,482.4C263.0,481.6 265.0,481.6 267.0,481.0C269.0,480.4 271.2,479.8 273.0,479.0C274.8,478.2 276.3,477.5 278.0,476.0C279.7,474.5 281.3,472.0 283.0,470.0C284.7,468.0 286.3,466.0 288.0,464.0C289.7,462.0 291.3,459.9 293.0,458.0C294.7,456.1 296.0,454.2 298.0,452.4C300.0,450.6 303.4,447.9 305.0,447.0C306.6,446.1 306.1,447.3 307.5,446.8C308.9,446.2 311.5,444.8 313.5,443.8C315.5,442.8 317.5,441.9 319.5,440.8C321.5,439.6 323.5,438.5 325.5,437.0C327.5,435.5 329.8,433.5 331.5,431.8C333.2,430.0 334.5,428.4 336.0,426.5C337.5,424.6 339.0,422.4 340.5,420.5C342.0,418.6 343.5,416.8 345.0,415.2C346.5,413.8 348.0,412.5 349.5,411.5C351.0,410.5 352.5,409.9 354.0,409.2C355.5,408.6 357.0,408.2 358.5,407.8C360.0,407.2 361.5,406.7 363.0,406.2C364.5,405.8 366.0,405.7 367.5,405.2C369.0,404.7 370.5,404.1 372.0,403.2C373.5,402.4 375.0,401.5 376.5,400.2C378.0,399.0 379.5,397.5 381.0,395.8C382.5,394.0 384.0,391.8 385.5,389.8C387.0,387.8 388.4,386.0 390.0,383.8C391.6,381.5 393.1,378.2 395.0,376.2C396.9,374.3 399.2,373.0 401.2,371.9C403.3,370.7 405.4,370.1 407.5,369.4C409.6,368.6 411.7,368.3 413.8,367.5C415.8,366.7 417.9,365.7 420.0,364.4C422.1,363.0 424.4,361.2 426.2,359.4C428.1,357.6 429.6,355.7 431.2,353.8C432.9,351.8 434.6,349.5 436.2,347.5C437.9,345.5 439.6,343.5 441.2,341.9C442.9,340.2 444.6,338.6 446.2,337.5C447.9,336.4 449.4,335.7 451.2,335.0C453.1,334.3 455.4,333.9 457.5,333.1C459.6,332.4 461.7,331.6 463.8,330.6C465.8,329.7 468.1,329.5 470.0,327.5C471.9,325.5 473.1,321.1 475.0,318.8C476.9,316.4 479.1,315.4 481.2,313.1C483.4,310.8 486.0,307.1 488.0,305.0C490.0,302.9 491.2,301.8 493.0,300.5C494.8,299.2 497.0,298.3 499.0,297.5C501.0,296.7 503.0,296.1 505.0,295.5C507.0,294.9 509.2,294.8 511.0,294.0C512.8,293.2 514.5,292.0 516.0,291.0C517.5,290.0 518.7,289.2 520.0,288.0C521.3,286.8 522.8,285.3 524.0,284.0C525.2,282.7 526.5,280.7 527.0,280.0" fill="none" stroke="#8CAB00" stroke-width="3.8" stroke-linejoin="round"/>
<path d="M396.9,285.0C397.3,285.3 398.5,286.2 399.4,286.9C400.3,287.5 401.1,288.3 402.5,288.9C403.9,289.5 405.6,290.5 407.5,290.6C409.4,290.7 412.1,290.0 413.8,289.5C415.4,288.9 416.3,288.2 417.5,287.4C418.7,286.7 419.8,285.8 421.0,284.9C422.2,284.0 423.3,282.8 424.5,281.9C425.7,281.0 426.8,280.2 428.1,279.4C429.4,278.5 431.1,277.2 432.5,276.8C433.9,276.4 435.0,276.5 436.2,276.8C437.5,277.0 438.8,277.6 440.0,278.4C441.2,279.1 442.5,280.2 443.8,281.1C445.0,282.0 446.2,282.8 447.5,283.6C448.8,284.3 450.0,285.1 451.2,285.7C452.5,286.2 453.8,286.7 455.0,286.9C456.2,287.1 457.5,287.1 458.8,286.9C460.0,286.7 461.2,286.3 462.5,285.6C463.8,284.8 465.0,283.7 466.2,282.5C467.5,281.4 468.8,279.7 470.0,278.5C471.2,277.3 472.2,276.0 473.5,275.2C474.8,274.3 475.6,273.7 477.5,273.5C479.4,273.3 482.8,273.6 485.0,274.0C487.2,274.4 489.1,275.4 491.0,276.1C492.9,276.7 494.5,277.7 496.2,278.1C498.0,278.6 499.9,278.9 501.5,278.8C503.1,278.7 504.5,278.2 506.0,277.5C507.5,276.8 509.0,276.0 510.5,274.7C512.0,273.4 513.5,271.4 515.0,269.5C516.5,267.6 518.0,265.6 519.5,263.5C521.0,261.4 522.8,258.5 524.0,256.8C525.2,255.2 526.2,254.2 526.6,253.6L526.6,297.0C526.2,296.7 525.2,296.0 524.0,295.7C522.8,295.4 521.0,294.9 519.5,295.0C518.0,295.1 516.5,296.0 515.0,296.5C513.5,297.0 512.0,297.7 510.5,298.1C509.0,298.5 507.5,298.9 506.0,299.0C504.5,299.1 503.1,298.8 501.5,298.4C499.9,298.1 498.0,297.5 496.2,296.9C494.5,296.2 492.9,295.3 491.0,294.4C489.1,293.6 487.2,292.6 485.0,292.0C482.8,291.4 479.4,290.9 477.5,291.0C475.6,291.1 474.8,291.7 473.5,292.4C472.2,293.2 471.2,294.3 470.0,295.5C468.8,296.7 467.5,298.3 466.2,299.5C465.0,300.6 463.8,301.7 462.5,302.4C461.2,303.1 460.0,303.5 458.8,303.7C457.5,303.9 456.2,303.9 455.0,303.7C453.8,303.5 452.5,302.9 451.2,302.3C450.0,301.8 448.8,301.0 447.5,300.2C446.2,299.4 445.0,298.6 443.8,297.7C442.5,296.8 441.2,295.6 440.0,294.9C438.8,294.1 437.5,293.5 436.2,293.2C435.0,292.9 433.9,292.8 432.5,293.2C431.1,293.6 429.4,294.8 428.1,295.6C426.8,296.5 425.7,297.2 424.5,298.1C423.3,299.0 422.2,300.2 421.0,301.1C419.8,302.0 418.7,302.8 417.5,303.6C416.3,304.3 415.4,305.0 413.8,305.5C412.1,306.1 409.4,306.8 407.5,306.9C405.6,307.0 403.9,306.3 402.5,306.1C401.1,305.9 400.3,305.8 399.4,305.6C398.5,305.5 397.3,305.1 396.9,305.0Z" fill="#999999" fill-opacity="0.4"/>
<path d="M396.9,295.0C397.3,295.2 398.5,295.8 399.4,296.2C400.3,296.7 401.1,297.1 402.5,297.5C403.9,297.9 405.6,298.8 407.5,298.8C409.4,298.8 412.1,298.0 413.8,297.5C415.4,297.0 416.3,296.2 417.5,295.5C418.7,294.8 419.8,293.9 421.0,293.0C422.2,292.1 423.3,290.9 424.5,290.0C425.7,289.1 426.8,288.3 428.1,287.5C429.4,286.7 431.1,285.4 432.5,285.0C433.9,284.6 435.0,284.7 436.2,285.0C437.5,285.3 438.8,285.9 440.0,286.6C441.2,287.3 442.5,288.5 443.8,289.4C445.0,290.3 446.2,291.1 447.5,291.9C448.8,292.7 450.0,293.4 451.2,294.0C452.5,294.6 453.8,295.1 455.0,295.3C456.2,295.5 457.5,295.5 458.8,295.3C460.0,295.1 461.2,294.7 462.5,294.0C463.8,293.3 465.0,292.2 466.2,291.0C467.5,289.8 468.8,288.2 470.0,287.0C471.2,285.8 472.2,284.6 473.5,283.8C474.8,283.0 475.6,282.4 477.5,282.2C479.4,282.1 482.8,282.5 485.0,283.0C487.2,283.5 489.1,284.5 491.0,285.2C492.9,286.0 494.5,286.9 496.2,287.5C498.0,288.1 499.9,288.5 501.5,288.6C503.1,288.7 504.5,288.6 506.0,288.2C507.5,287.9 509.0,287.3 510.5,286.4C512.0,285.5 513.5,284.2 515.0,283.0C516.5,281.8 518.0,280.4 519.5,279.2C521.0,278.1 522.8,276.9 524.0,276.2C525.2,275.6 526.2,275.5 526.6,275.3" fill="none" stroke="#24B700" stroke-width="3.8" stroke-linejoin="round"/>
<path d="M410.0,341.9C410.4,341.2 411.7,339.2 412.5,337.6C413.3,336.1 414.1,334.8 415.0,332.8C415.9,330.7 417.1,327.7 418.1,325.6C419.1,323.4 420.1,321.4 421.2,319.6C422.4,317.9 423.8,316.3 425.0,315.0C426.2,313.7 427.2,312.8 428.8,312.1C430.3,311.3 432.8,310.9 434.5,310.6C436.2,310.4 437.5,310.6 439.0,310.6C440.5,310.6 442.0,310.8 443.5,310.8C445.0,310.8 446.5,310.8 448.0,310.6C449.5,310.4 451.1,310.0 452.5,309.4C453.9,308.8 455.1,308.2 456.2,307.2C457.4,306.1 458.2,304.7 459.2,303.0C460.2,301.3 461.2,299.1 462.2,297.0C463.2,294.8 464.2,292.4 465.2,290.2C466.2,288.0 467.2,285.7 468.2,283.8C469.2,281.9 470.2,280.3 471.2,278.8C472.3,277.3 473.1,276.1 474.5,274.7C475.9,273.3 478.0,271.6 479.8,270.5C481.5,269.5 483.1,268.8 485.0,268.2C486.9,267.7 489.2,267.3 491.0,267.1C492.8,266.9 494.5,266.9 495.5,266.8C496.5,266.8 496.8,266.8 497.0,266.8L497.0,294.8C496.8,294.6 496.5,294.5 495.5,294.0C494.5,293.5 492.8,292.4 491.0,291.7C489.2,291.0 486.9,290.1 485.0,289.8C483.1,289.4 481.5,289.0 479.8,289.5C478.0,289.9 475.9,291.4 474.5,292.5C473.1,293.5 472.3,294.5 471.2,295.8C470.2,297.1 469.2,298.5 468.2,300.2C467.2,301.8 466.2,303.8 465.2,305.8C464.2,307.9 463.2,310.4 462.2,312.5C461.2,314.6 460.2,316.8 459.2,318.5C458.2,320.2 457.4,321.6 456.2,322.6C455.1,323.7 453.9,324.3 452.5,324.8C451.1,325.4 449.5,325.7 448.0,325.9C446.5,326.1 445.0,326.1 443.5,326.0C442.0,326.0 440.5,325.8 439.0,325.8C437.5,325.8 436.2,325.5 434.5,325.8C432.8,326.0 430.3,326.4 428.8,327.1C427.2,327.8 426.2,328.6 425.0,330.0C423.8,331.4 422.4,333.4 421.2,335.4C420.1,337.4 419.1,339.5 418.1,341.9C417.1,344.3 415.9,347.4 415.0,349.8C414.1,352.1 413.3,354.1 412.5,356.1C411.7,358.2 410.4,360.9 410.0,361.9Z" fill="#999999" fill-opacity="0.4"/>
<path d="M410.0,351.9C410.4,351.1 411.7,348.7 412.5,346.9C413.3,345.1 414.1,343.4 415.0,341.2C415.9,339.1 417.1,336.0 418.1,333.8C419.1,331.5 420.1,329.4 421.2,327.5C422.4,325.6 423.8,323.8 425.0,322.5C426.2,321.2 427.2,320.3 428.8,319.6C430.3,318.9 432.8,318.4 434.5,318.2C436.2,318.0 437.5,318.2 439.0,318.2C440.5,318.2 442.0,318.4 443.5,318.4C445.0,318.4 446.5,318.5 448.0,318.2C449.5,318.0 451.1,317.7 452.5,317.1C453.9,316.5 455.1,316.0 456.2,314.9C457.4,313.8 458.2,312.4 459.2,310.8C460.2,309.1 461.2,306.9 462.2,304.8C463.2,302.6 464.2,300.1 465.2,298.0C466.2,295.9 467.2,293.8 468.2,292.0C469.2,290.2 470.2,288.7 471.2,287.3C472.3,285.9 473.1,284.8 474.5,283.6C475.9,282.4 478.0,280.8 479.8,280.0C481.5,279.2 483.1,279.1 485.0,279.0C486.9,278.9 489.2,279.2 491.0,279.4C492.8,279.6 494.5,280.2 495.5,280.4C496.5,280.6 496.8,280.7 497.0,280.8" fill="none" stroke="#00BE70" stroke-width="3.8" stroke-linejoin="round"/>
<path d="M397.0,292.6C397.6,293.3 399.3,295.4 400.5,296.6C401.7,297.9 402.8,299.0 404.0,299.9C405.2,300.7 406.8,301.4 408.0,301.7C409.2,302.1 410.0,302.2 411.0,302.0C412.0,301.8 413.0,301.3 414.0,300.6C415.0,299.8 416.0,298.9 417.0,297.6C418.0,296.3 419.0,294.6 420.0,292.8C421.0,291.0 422.1,288.8 423.1,286.8C424.1,284.8 425.2,282.6 426.2,280.8C427.3,279.0 428.4,277.3 429.4,276.2C430.4,275.0 431.4,274.2 432.5,273.7C433.6,273.3 435.0,273.2 436.2,273.4C437.5,273.6 438.8,274.2 440.0,274.9C441.2,275.7 442.5,277.0 443.8,278.1C445.0,279.1 446.2,280.2 447.5,281.1C448.8,282.1 450.0,282.9 451.2,283.6C452.5,284.3 453.8,284.9 455.0,285.2C456.2,285.4 457.5,285.4 458.8,285.1C460.0,284.9 461.2,284.5 462.5,283.5C463.8,282.6 465.0,281.5 466.2,279.3C467.5,277.1 468.6,273.8 470.0,270.3C471.4,266.8 472.9,261.4 474.5,258.3C476.1,255.2 477.9,252.7 479.5,251.6C481.1,250.4 482.6,250.9 484.0,251.2C485.4,251.6 486.7,252.7 488.0,253.7C489.3,254.7 490.7,256.1 492.0,257.2C493.3,258.3 494.7,259.3 496.0,260.1C497.3,261.0 498.7,261.7 500.0,262.1C501.3,262.6 502.7,263.1 504.0,262.9C505.3,262.7 506.8,261.7 508.0,260.8C509.2,259.9 510.3,258.8 511.5,257.3C512.7,255.9 513.8,254.3 515.0,252.2C516.2,250.2 517.7,247.6 519.0,245.2C520.3,242.8 521.7,239.9 523.0,237.7C524.3,235.6 526.2,233.0 526.8,232.1L526.8,254.0C526.2,254.6 524.3,256.1 523.0,257.5C521.7,259.0 520.3,260.9 519.0,262.8C517.7,264.6 516.2,267.0 515.0,268.8C513.8,270.5 512.7,272.1 511.5,273.3C510.3,274.6 509.2,275.5 508.0,276.3C506.8,277.0 505.3,277.7 504.0,277.9C502.7,278.0 501.3,277.6 500.0,277.1C498.7,276.7 497.3,276.0 496.0,275.1C494.7,274.3 493.3,273.3 492.0,272.2C490.7,271.1 489.3,269.7 488.0,268.7C486.7,267.7 485.4,266.6 484.0,266.2C482.6,265.9 481.1,265.4 479.5,266.6C477.9,267.7 476.1,270.2 474.5,273.3C472.9,276.4 471.4,281.8 470.0,285.3C468.6,288.8 467.5,292.1 466.2,294.3C465.0,296.5 463.8,297.6 462.5,298.5C461.2,299.5 460.0,299.9 458.8,300.1C457.5,300.4 456.2,300.4 455.0,300.2C453.8,299.9 452.5,299.3 451.2,298.6C450.0,297.9 448.8,297.1 447.5,296.1C446.2,295.2 445.0,294.1 443.8,293.1C442.5,292.0 441.2,290.7 440.0,289.9C438.8,289.2 437.5,288.6 436.2,288.4C435.0,288.2 433.6,288.3 432.5,288.7C431.4,289.2 430.4,290.0 429.4,291.2C428.4,292.3 427.3,294.0 426.2,295.8C425.2,297.6 424.1,299.8 423.1,301.8C422.1,303.8 421.0,306.0 420.0,307.8C419.0,309.6 418.0,311.3 417.0,312.6C416.0,313.9 415.0,314.8 414.0,315.6C413.0,316.3 412.0,316.7 411.0,317.0C410.0,317.3 409.2,317.4 408.0,317.3C406.8,317.2 405.2,317.0 404.0,316.6C402.8,316.2 401.7,315.6 400.5,314.9C399.3,314.2 397.6,313.0 397.0,312.6Z" fill="#999999" fill-opacity="0.4"/>
<path d="M397.0,302.6C397.6,303.1 399.3,304.8 400.5,305.8C401.7,306.7 402.8,307.6 404.0,308.2C405.2,308.9 406.8,309.3 408.0,309.5C409.2,309.7 410.0,309.7 411.0,309.5C412.0,309.3 413.0,308.8 414.0,308.1C415.0,307.3 416.0,306.4 417.0,305.1C418.0,303.8 419.0,302.1 420.0,300.3C421.0,298.5 422.1,296.3 423.1,294.3C424.1,292.3 425.2,290.1 426.2,288.3C427.3,286.5 428.4,284.8 429.4,283.7C430.4,282.5 431.4,281.7 432.5,281.2C433.6,280.8 435.0,280.7 436.2,280.9C437.5,281.1 438.8,281.7 440.0,282.4C441.2,283.2 442.5,284.5 443.8,285.6C445.0,286.6 446.2,287.7 447.5,288.6C448.8,289.6 450.0,290.4 451.2,291.1C452.5,291.8 453.8,292.4 455.0,292.7C456.2,292.9 457.5,292.9 458.8,292.6C460.0,292.4 461.2,292.0 462.5,291.0C463.8,290.1 465.0,289.0 466.2,286.8C467.5,284.6 468.6,281.3 470.0,277.8C471.4,274.3 472.9,268.9 474.5,265.8C476.1,262.7 477.9,260.2 479.5,259.1C481.1,257.9 482.6,258.4 484.0,258.7C485.4,259.1 486.7,260.2 488.0,261.2C489.3,262.2 490.7,263.6 492.0,264.7C493.3,265.8 494.7,266.8 496.0,267.6C497.3,268.5 498.7,269.2 500.0,269.6C501.3,270.1 502.7,270.6 504.0,270.4C505.3,270.2 506.8,269.4 508.0,268.6C509.2,267.7 510.3,266.7 511.5,265.3C512.7,264.0 513.8,262.4 515.0,260.5C516.2,258.6 517.7,256.1 519.0,254.0C520.3,251.8 521.7,249.5 523.0,247.6C524.3,245.8 526.2,243.8 526.8,243.0" fill="none" stroke="#00C1AB" stroke-width="3.8" stroke-linejoin="round"/>
<path d="M381.2,290.3C381.8,289.8 383.6,288.4 384.5,287.8C385.4,287.1 385.9,286.7 386.5,286.4C387.1,286.1 387.3,286.0 388.0,285.9C388.7,285.8 389.7,285.6 390.5,285.8C391.3,285.9 391.9,286.2 393.0,286.8C394.1,287.5 395.8,288.7 397.0,289.7C398.2,290.6 399.3,291.6 400.5,292.5C401.7,293.3 402.8,294.1 404.0,294.6C405.2,295.1 406.8,295.4 408.0,295.5C409.2,295.6 410.0,295.5 411.0,295.1C412.0,294.8 413.0,294.3 414.0,293.4C415.0,292.6 416.0,291.5 417.0,290.1C418.0,288.7 419.0,287.0 420.0,285.1C421.0,283.2 422.1,280.8 423.1,278.8C424.1,276.7 425.2,274.4 426.2,272.6C427.3,270.8 428.4,269.1 429.4,268.0C430.4,266.8 431.4,266.0 432.5,265.6C433.6,265.1 435.0,265.1 436.2,265.3C437.5,265.5 438.8,266.0 440.0,266.8C441.2,267.6 442.5,268.9 443.8,270.0C445.0,271.0 446.2,272.2 447.5,273.1C448.8,274.0 450.0,274.9 451.2,275.6C452.5,276.3 453.8,277.0 455.0,277.2C456.2,277.4 457.5,277.2 458.8,276.8C460.0,276.4 461.2,275.8 462.5,274.8C463.8,273.7 465.0,272.2 466.2,270.3C467.5,268.4 468.6,266.1 470.0,263.4C471.4,260.7 472.9,256.5 474.5,253.9C476.1,251.3 477.9,249.1 479.5,248.1C481.1,247.1 482.6,247.4 484.0,247.8C485.4,248.1 486.7,249.2 488.0,250.2C489.3,251.2 490.7,252.6 492.0,253.7C493.3,254.7 494.7,255.8 496.0,256.6C497.3,257.4 498.7,258.1 500.0,258.6C501.3,259.0 502.7,259.6 504.0,259.3C505.3,259.1 506.8,258.2 508.0,257.3C509.2,256.3 510.3,255.2 511.5,253.7C512.7,252.3 513.8,250.7 515.0,248.6C516.2,246.6 517.7,243.8 519.0,241.3C520.3,238.7 521.7,235.8 523.0,233.5C524.3,231.3 526.2,228.6 526.8,227.6L526.8,249.5C526.2,250.1 524.3,251.8 523.0,253.4C521.7,255.0 520.3,257.0 519.0,259.0C517.7,261.0 516.2,263.5 515.0,265.4C513.8,267.2 512.7,268.7 511.5,269.9C510.3,271.2 509.2,272.2 508.0,272.9C506.8,273.7 505.3,274.4 504.0,274.5C502.7,274.7 501.3,274.2 500.0,273.8C498.7,273.4 497.3,272.7 496.0,271.9C494.7,271.0 493.3,270.0 492.0,268.9C490.7,267.8 489.3,266.4 488.0,265.5C486.7,264.5 485.4,263.4 484.0,263.0C482.6,262.7 481.1,262.4 479.5,263.4C477.9,264.4 476.1,266.7 474.5,269.2C472.9,271.8 471.4,276.0 470.0,278.7C468.6,281.5 467.5,283.8 466.2,285.7C465.0,287.6 463.8,289.0 462.5,290.1C461.2,291.2 460.0,291.7 458.8,292.2C457.5,292.6 456.2,292.8 455.0,292.6C453.8,292.4 452.5,291.7 451.2,291.0C450.0,290.3 448.8,289.4 447.5,288.5C446.2,287.6 445.0,286.4 443.8,285.4C442.5,284.4 441.2,283.1 440.0,282.3C438.8,281.5 437.5,280.9 436.2,280.7C435.0,280.5 433.6,280.6 432.5,281.0C431.4,281.5 430.4,282.3 429.4,283.4C428.4,284.6 427.3,286.2 426.2,288.0C425.2,289.8 424.1,292.2 423.1,294.3C422.1,296.4 421.0,298.7 420.0,300.6C419.0,302.5 418.0,304.2 417.0,305.6C416.0,307.0 415.0,308.1 414.0,309.0C413.0,309.8 412.0,310.3 411.0,310.7C410.0,311.0 409.2,311.1 408.0,311.0C406.8,310.9 405.2,310.6 404.0,310.1C402.8,309.7 401.7,308.9 400.5,308.0C399.3,307.2 398.2,306.1 397.0,305.3C395.8,304.4 394.1,303.4 393.0,302.9C391.9,302.5 391.3,302.5 390.5,302.6C389.7,302.7 388.7,303.1 388.0,303.3C387.3,303.6 387.1,303.7 386.5,304.2C385.9,304.8 385.4,305.5 384.5,306.6C383.6,307.8 381.8,310.4 381.2,311.1Z" fill="#999999" fill-opacity="0.4"/>
<path d="M381.2,300.7C381.8,300.1 383.6,298.1 384.5,297.2C385.4,296.3 385.9,295.7 386.5,295.3C387.1,294.9 387.3,294.8 388.0,294.6C388.7,294.4 389.7,294.1 390.5,294.2C391.3,294.2 391.9,294.3 393.0,294.9C394.1,295.4 395.8,296.6 397.0,297.5C398.2,298.4 399.3,299.4 400.5,300.2C401.7,301.1 402.8,301.9 404.0,302.4C405.2,302.9 406.8,303.1 408.0,303.2C409.2,303.3 410.0,303.3 411.0,302.9C412.0,302.6 413.0,302.0 414.0,301.2C415.0,300.3 416.0,299.3 417.0,297.9C418.0,296.5 419.0,294.7 420.0,292.8C421.0,290.9 422.1,288.6 423.1,286.5C424.1,284.4 425.2,282.1 426.2,280.3C427.3,278.5 428.4,276.9 429.4,275.7C430.4,274.5 431.4,273.8 432.5,273.3C433.6,272.9 435.0,272.8 436.2,273.0C437.5,273.2 438.8,273.8 440.0,274.6C441.2,275.3 442.5,276.7 443.8,277.7C445.0,278.7 446.2,279.9 447.5,280.8C448.8,281.7 450.0,282.6 451.2,283.3C452.5,284.0 453.8,284.7 455.0,284.9C456.2,285.1 457.5,284.9 458.8,284.5C460.0,284.1 461.2,283.5 462.5,282.4C463.8,281.4 465.0,279.9 466.2,278.0C467.5,276.1 468.6,273.8 470.0,271.1C471.4,268.3 472.9,264.1 474.5,261.6C476.1,259.0 477.9,256.8 479.5,255.7C481.1,254.7 482.6,255.0 484.0,255.4C485.4,255.7 486.7,256.9 488.0,257.8C489.3,258.8 490.7,260.2 492.0,261.3C493.3,262.4 494.7,263.4 496.0,264.2C497.3,265.1 498.7,265.7 500.0,266.2C501.3,266.6 502.7,267.1 504.0,266.9C505.3,266.8 506.8,265.9 508.0,265.1C509.2,264.2 510.3,263.2 511.5,261.8C512.7,260.5 513.8,259.0 515.0,257.0C516.2,255.0 517.7,252.4 519.0,250.1C520.3,247.9 521.7,245.4 523.0,243.5C524.3,241.5 526.2,239.4 526.8,238.5" fill="none" stroke="#00BBDA" stroke-width="3.8" stroke-linejoin="round"/>
<path d="M388.0,284.6C388.4,284.7 389.7,285.0 390.5,285.4C391.3,285.9 391.9,286.3 393.0,287.2C394.1,288.1 395.8,289.8 397.0,291.0C398.2,292.3 399.3,293.6 400.5,294.6C401.7,295.6 402.8,296.5 404.0,297.1C405.2,297.7 406.8,298.2 408.0,298.4C409.2,298.6 410.0,298.7 411.0,298.4C412.0,298.2 413.0,297.8 414.0,297.0C415.0,296.3 416.0,295.3 417.0,294.0C418.0,292.7 419.0,291.1 420.0,289.3C421.0,287.6 422.1,285.3 423.1,283.4C424.1,281.4 425.2,279.1 426.2,277.4C427.3,275.6 428.4,273.9 429.4,272.8C430.4,271.6 431.4,270.8 432.5,270.4C433.6,269.9 435.0,269.9 436.2,270.1C437.5,270.3 438.8,270.8 440.0,271.6C441.2,272.4 442.5,273.7 443.8,274.8C445.0,275.8 446.2,277.0 447.5,277.9C448.8,278.8 450.0,279.7 451.2,280.4C452.5,281.1 453.8,281.7 455.0,282.0C456.2,282.3 457.5,282.3 458.8,282.0C460.0,281.7 461.2,281.4 462.5,280.4C463.8,279.5 465.0,278.2 466.2,276.4C467.5,274.7 468.6,272.5 470.0,269.9C471.4,267.3 472.9,263.4 474.5,260.9C476.1,258.5 477.9,256.2 479.5,255.2C481.1,254.3 482.6,254.6 484.0,255.0C485.4,255.3 486.7,256.5 488.0,257.5C489.3,258.5 490.7,259.9 492.0,261.0C493.3,262.1 494.7,263.1 496.0,264.0C497.3,264.8 498.7,265.5 500.0,266.0C501.3,266.5 502.7,267.0 504.0,266.8C505.3,266.6 506.8,265.7 508.0,264.8C509.2,263.9 510.3,262.7 511.5,261.3C512.7,259.9 513.8,258.2 515.0,256.2C516.2,254.3 517.7,251.8 519.0,249.5C520.3,247.2 521.7,244.5 523.0,242.4C524.3,240.3 526.2,238.0 526.8,237.1L526.8,257.9C526.2,258.5 524.3,259.8 523.0,261.2C521.7,262.5 520.3,264.3 519.0,266.1C517.7,267.8 516.2,270.1 515.0,271.8C513.8,273.5 512.7,275.1 511.5,276.3C510.3,277.5 509.2,278.5 508.0,279.2C506.8,280.0 505.3,280.7 504.0,280.8C502.7,280.9 501.3,280.5 500.0,280.0C498.7,279.5 497.3,278.9 496.0,278.0C494.7,277.2 493.3,276.1 492.0,275.0C490.7,273.9 489.3,272.5 488.0,271.5C486.7,270.5 485.4,269.4 484.0,269.0C482.6,268.7 481.1,268.3 479.5,269.4C477.9,270.4 476.1,272.6 474.5,275.1C472.9,277.5 471.4,281.5 470.0,284.1C468.6,286.7 467.5,288.8 466.2,290.6C465.0,292.3 463.8,293.6 462.5,294.6C461.2,295.5 460.0,295.9 458.8,296.2C457.5,296.5 456.2,296.5 455.0,296.2C453.8,295.9 452.5,295.3 451.2,294.6C450.0,293.9 448.8,293.0 447.5,292.1C446.2,291.2 445.0,290.1 443.8,289.0C442.5,288.0 441.2,286.7 440.0,285.9C438.8,285.1 437.5,284.5 436.2,284.3C435.0,284.1 433.6,284.2 432.5,284.6C431.4,285.1 430.4,285.9 429.4,287.0C428.4,288.2 427.3,289.9 426.2,291.6C425.2,293.4 424.1,295.6 423.1,297.6C422.1,299.7 421.0,301.9 420.0,303.7C419.0,305.4 418.0,307.1 417.0,308.4C416.0,309.7 415.0,310.6 414.0,311.4C413.0,312.1 412.0,312.5 411.0,312.8C410.0,313.0 409.2,313.0 408.0,312.8C406.8,312.6 405.2,312.1 404.0,311.5C402.8,310.9 401.7,309.9 400.5,309.0C399.3,308.1 398.2,307.0 397.0,306.2C395.8,305.3 394.1,304.2 393.0,303.8C391.9,303.4 391.3,303.4 390.5,303.6C389.7,303.7 388.4,304.4 388.0,304.6Z" fill="#999999" fill-opacity="0.4"/>
<path d="M388.0,294.6C388.4,294.6 389.7,294.4 390.5,294.5C391.3,294.6 391.9,294.8 393.0,295.5C394.1,296.2 395.8,297.6 397.0,298.6C398.2,299.7 399.3,300.9 400.5,301.8C401.7,302.8 402.8,303.7 404.0,304.3C405.2,304.9 406.8,305.4 408.0,305.6C409.2,305.8 410.0,305.8 411.0,305.6C412.0,305.4 413.0,304.9 414.0,304.2C415.0,303.5 416.0,302.5 417.0,301.2C418.0,299.9 419.0,298.3 420.0,296.5C421.0,294.7 422.1,292.5 423.1,290.5C424.1,288.5 425.2,286.3 426.2,284.5C427.3,282.7 428.4,281.1 429.4,279.9C430.4,278.7 431.4,277.9 432.5,277.5C433.6,277.1 435.0,277.0 436.2,277.2C437.5,277.4 438.8,278.0 440.0,278.8C441.2,279.5 442.5,280.9 443.8,281.9C445.0,282.9 446.2,284.1 447.5,285.0C448.8,285.9 450.0,286.8 451.2,287.5C452.5,288.2 453.8,288.8 455.0,289.1C456.2,289.4 457.5,289.4 458.8,289.1C460.0,288.8 461.2,288.4 462.5,287.5C463.8,286.6 465.0,285.2 466.2,283.5C467.5,281.8 468.6,279.6 470.0,277.0C471.4,274.4 472.9,270.4 474.5,268.0C476.1,265.6 477.9,263.3 479.5,262.3C481.1,261.3 482.6,261.6 484.0,262.0C485.4,262.4 486.7,263.5 488.0,264.5C489.3,265.5 490.7,266.9 492.0,268.0C493.3,269.1 494.7,270.2 496.0,271.0C497.3,271.8 498.7,272.5 500.0,273.0C501.3,273.5 502.7,274.0 504.0,273.8C505.3,273.6 506.8,272.8 508.0,272.0C509.2,271.2 510.3,270.1 511.5,268.8C512.7,267.5 513.8,265.8 515.0,264.0C516.2,262.2 517.7,259.8 519.0,257.8C520.3,255.8 521.7,253.5 523.0,251.8C524.3,250.1 526.2,248.2 526.8,247.5" fill="none" stroke="#00ACFC" stroke-width="3.8" stroke-linejoin="round"/>
<path d="M450.0,374.2C450.6,374.1 452.5,374.0 453.8,373.5C455.0,372.9 456.2,372.0 457.5,370.9C458.8,369.9 460.0,368.8 461.2,367.4C462.5,365.9 463.8,363.9 465.0,362.1C466.2,360.3 467.5,358.1 468.8,356.6C470.0,355.0 471.2,353.8 472.5,352.8C473.8,351.9 474.8,351.4 476.2,351.0C477.7,350.5 479.6,350.3 481.2,350.2C482.9,350.0 484.6,350.2 486.2,350.2C487.9,350.1 489.6,350.1 491.2,349.9C492.9,349.6 494.8,349.3 496.2,348.7C497.7,348.0 498.8,347.2 500.0,346.2C501.2,345.2 502.5,343.8 503.8,342.5C505.0,341.1 506.2,339.6 507.5,338.1C508.8,336.7 510.0,335.1 511.2,333.7C512.5,332.2 513.8,330.9 515.0,329.6C516.2,328.2 517.5,326.8 518.8,325.5C520.0,324.2 521.2,322.7 522.5,321.6C523.8,320.5 525.3,319.5 526.2,318.8C527.2,318.2 527.8,317.9 528.1,317.8L528.1,339.8C527.8,339.8 527.2,339.8 526.2,339.9C525.3,340.1 523.8,340.3 522.5,340.9C521.2,341.4 520.0,342.3 518.8,343.3C517.5,344.2 516.2,345.5 515.0,346.7C513.8,347.8 512.5,348.8 511.2,350.1C510.0,351.4 508.8,352.9 507.5,354.4C506.2,355.8 505.0,357.4 503.8,358.8C502.5,360.1 501.2,361.5 500.0,362.6C498.8,363.6 497.7,364.5 496.2,365.1C494.8,365.7 492.9,366.1 491.2,366.4C489.6,366.7 487.9,366.7 486.2,366.8C484.6,366.9 482.9,366.7 481.2,366.8C479.6,367.0 477.7,367.3 476.2,367.8C474.8,368.2 473.8,368.7 472.5,369.7C471.2,370.6 470.0,371.9 468.8,373.4C467.5,375.0 466.2,377.2 465.0,379.1C463.8,381.0 462.5,383.3 461.2,385.1C460.0,387.0 458.8,388.6 457.5,390.3C456.2,392.0 455.0,394.0 453.8,395.3C452.5,396.6 450.6,397.8 450.0,398.2Z" fill="#999999" fill-opacity="0.4"/>
<path d="M450.0,386.2C450.6,385.9 452.5,385.3 453.8,384.4C455.0,383.4 456.2,382.0 457.5,380.6C458.8,379.3 460.0,377.9 461.2,376.2C462.5,374.6 463.8,372.5 465.0,370.6C466.2,368.7 467.5,366.6 468.8,365.0C470.0,363.4 471.2,362.2 472.5,361.2C473.8,360.3 474.8,359.8 476.2,359.4C477.7,358.9 479.6,358.6 481.2,358.5C482.9,358.4 484.6,358.6 486.2,358.5C487.9,358.4 489.6,358.4 491.2,358.1C492.9,357.9 494.8,357.5 496.2,356.9C497.7,356.3 498.8,355.4 500.0,354.4C501.2,353.3 502.5,352.0 503.8,350.6C505.0,349.3 506.2,347.7 507.5,346.2C508.8,344.8 510.0,343.2 511.2,341.9C512.5,340.5 513.8,339.4 515.0,338.1C516.2,336.9 517.5,335.5 518.8,334.4C520.0,333.2 521.2,332.1 522.5,331.2C523.8,330.4 525.3,329.8 526.2,329.4C527.2,329.0 527.8,328.9 528.1,328.8" fill="none" stroke="#8B93FF" stroke-width="3.8" stroke-linejoin="round"/>
<path d="M450.0,428.0C450.6,427.9 452.5,428.0 453.8,427.7C455.0,427.3 456.2,426.8 457.5,425.9C458.8,425.0 460.0,423.4 461.2,422.2C462.5,421.0 463.8,419.7 465.0,418.8C466.2,417.8 467.5,416.8 468.8,416.2C470.0,415.7 471.2,415.4 472.5,415.2C473.8,415.1 475.0,415.3 476.2,415.6C477.5,416.0 478.8,416.7 480.0,417.5C481.2,418.3 482.5,419.6 483.8,420.6C485.0,421.7 486.2,422.8 487.5,423.8C488.8,424.7 490.0,425.5 491.2,426.2C492.5,427.0 493.8,427.7 495.0,428.1C496.2,428.5 497.5,428.8 498.8,428.8C500.0,428.8 501.2,428.6 502.5,428.1C503.8,427.6 505.0,426.7 506.2,425.6C507.5,424.6 508.8,423.3 510.0,421.9C511.2,420.4 512.5,418.5 513.8,417.1C515.0,415.7 516.2,414.6 517.5,413.6C518.8,412.6 520.0,411.8 521.2,411.2C522.5,410.5 524.0,410.1 525.0,409.7C526.0,409.2 527.1,408.7 527.5,408.5L527.5,431.5C527.1,431.5 526.0,431.6 525.0,431.6C524.0,431.5 522.5,431.1 521.2,431.3C520.0,431.5 518.8,432.0 517.5,432.7C516.2,433.3 515.0,434.3 513.8,435.4C512.5,436.5 511.2,438.1 510.0,439.4C508.8,440.7 507.5,442.1 506.2,443.1C505.0,444.2 503.8,445.1 502.5,445.6C501.2,446.1 500.0,446.2 498.8,446.2C497.5,446.2 496.2,446.0 495.0,445.6C493.8,445.2 492.5,444.5 491.2,443.8C490.0,443.0 488.8,442.2 487.5,441.2C486.2,440.3 485.0,439.2 483.8,438.1C482.5,437.1 481.2,435.8 480.0,435.0C478.8,434.2 477.5,433.5 476.2,433.1C475.0,432.8 473.8,432.6 472.5,432.8C471.2,432.9 470.0,433.2 468.8,433.8C467.5,434.3 466.2,435.2 465.0,436.2C463.8,437.3 462.5,438.8 461.2,440.3C460.0,441.8 458.8,443.8 457.5,445.4C456.2,446.9 455.0,448.2 453.8,449.3C452.5,450.4 450.6,451.6 450.0,452.0Z" fill="#999999" fill-opacity="0.4"/>
<path d="M450.0,440.0C450.6,439.8 452.5,439.2 453.8,438.5C455.0,437.8 456.2,436.8 457.5,435.6C458.8,434.4 460.0,432.6 461.2,431.2C462.5,429.9 463.8,428.5 465.0,427.5C466.2,426.5 467.5,425.6 468.8,425.0C470.0,424.4 471.2,424.1 472.5,424.0C473.8,423.9 475.0,424.0 476.2,424.4C477.5,424.8 478.8,425.4 480.0,426.2C481.2,427.1 482.5,428.3 483.8,429.4C485.0,430.4 486.2,431.6 487.5,432.5C488.8,433.4 490.0,434.3 491.2,435.0C492.5,435.7 493.8,436.5 495.0,436.9C496.2,437.3 497.5,437.5 498.8,437.5C500.0,437.5 501.2,437.4 502.5,436.9C503.8,436.4 505.0,435.4 506.2,434.4C507.5,433.3 508.8,432.0 510.0,430.6C511.2,429.3 512.5,427.5 513.8,426.2C515.0,425.0 516.2,424.0 517.5,423.1C518.8,422.3 520.0,421.7 521.2,421.2C522.5,420.8 524.0,420.8 525.0,420.6C526.0,420.4 527.1,420.1 527.5,420.0" fill="none" stroke="#D575FE" stroke-width="3.8" stroke-linejoin="round"/>
<path d="M275.2,451.6C275.9,451.1 277.6,449.8 279.0,448.9C280.4,448.1 282.0,447.0 283.5,446.6C285.0,446.2 286.2,446.3 288.0,446.3C289.8,446.3 292.0,446.7 294.0,446.8C296.0,446.9 298.0,446.9 300.0,446.9C302.0,446.8 304.0,447.0 306.0,446.6C308.0,446.2 310.0,445.5 312.0,444.4C314.0,443.3 316.0,441.6 318.0,439.9C320.0,438.3 322.0,436.3 324.0,434.7C326.0,433.1 328.0,431.4 330.0,430.3C332.0,429.2 334.0,428.5 336.0,428.1C338.0,427.6 340.0,427.6 342.0,427.7C344.0,427.7 346.0,428.1 348.0,428.1C350.0,428.1 352.2,428.1 354.0,427.7C355.8,427.3 357.0,426.7 358.5,425.9C360.0,425.1 361.5,424.0 363.0,422.9C364.5,421.8 366.0,420.4 367.5,419.2C369.0,417.9 370.5,416.6 372.0,415.4C373.5,414.2 375.0,413.1 376.5,412.1C378.0,411.2 379.5,410.2 381.0,409.7C382.5,409.2 384.0,409.2 385.5,409.1C387.0,409.1 388.4,409.4 390.0,409.4C391.6,409.5 393.1,409.6 395.0,409.4C396.9,409.3 399.4,409.2 401.2,408.7C403.1,408.2 404.6,407.5 406.2,406.6C407.9,405.6 409.6,404.2 411.2,402.8C412.9,401.5 414.6,399.8 416.2,398.4C417.9,397.1 419.6,395.8 421.2,394.7C422.9,393.6 424.6,392.6 426.2,391.9C427.9,391.3 429.4,391.1 431.2,390.9C433.1,390.8 435.4,391.0 437.5,391.0C439.6,391.0 441.7,391.1 443.8,391.0C445.8,390.9 448.1,390.9 450.0,390.4C451.9,389.8 453.3,388.9 455.0,387.9C456.7,386.8 458.8,384.8 460.0,384.1C461.2,383.4 461.5,384.2 462.5,383.5C463.5,382.7 465.0,381.0 466.2,379.7C467.5,378.5 468.8,377.0 470.0,376.0C471.2,374.9 472.3,374.1 473.8,373.5C475.2,372.9 477.1,372.5 478.8,372.2C480.4,372.0 482.1,372.0 483.8,372.0C485.4,371.9 487.1,372.0 488.8,372.0C490.4,372.0 492.1,372.2 493.8,372.0C495.4,371.8 497.3,371.5 498.8,371.0C500.2,370.5 501.2,369.8 502.5,369.1C503.8,368.3 505.0,367.4 506.2,366.4C507.5,365.5 508.8,364.3 510.0,363.2C511.2,362.1 512.5,361.0 513.8,360.0C515.0,359.0 516.2,358.2 517.5,357.4C518.8,356.5 520.0,355.7 521.2,355.0C522.5,354.2 524.1,353.5 525.0,353.1C525.9,352.6 526.6,352.3 526.9,352.1L526.9,369.1C526.6,369.2 525.9,369.3 525.0,369.4C524.1,369.6 522.5,369.7 521.2,370.0C520.0,370.4 518.8,370.8 517.5,371.4C516.2,372.0 515.0,372.9 513.8,373.8C512.5,374.7 511.2,375.8 510.0,376.8C508.8,377.8 507.5,378.9 506.2,379.8C505.0,380.7 503.8,381.5 502.5,382.2C501.2,382.9 500.2,383.5 498.8,384.0C497.3,384.5 495.4,384.8 493.8,385.0C492.1,385.2 490.4,385.0 488.8,385.0C487.1,385.0 485.4,385.0 483.8,385.0C482.1,385.1 480.4,385.0 478.8,385.3C477.1,385.5 475.2,385.9 473.8,386.5C472.3,387.1 471.2,388.0 470.0,389.0C468.8,390.1 467.5,391.5 466.2,392.8C465.0,394.0 463.5,395.8 462.5,396.5C461.5,397.3 461.2,396.4 460.0,397.1C458.8,397.9 456.7,399.9 455.0,400.9C453.3,402.0 451.9,402.9 450.0,403.4C448.1,403.9 445.8,403.9 443.8,404.0C441.7,404.1 439.6,404.0 437.5,404.0C435.4,404.0 433.1,403.9 431.2,404.1C429.4,404.2 427.9,404.4 426.2,405.1C424.6,405.7 422.9,406.7 421.2,407.8C419.6,408.9 417.9,410.2 416.2,411.6C414.6,412.9 412.9,414.6 411.2,415.9C409.6,417.3 407.9,418.7 406.2,419.7C404.6,420.7 403.1,421.3 401.2,421.8C399.4,422.3 396.9,422.4 395.0,422.6C393.1,422.7 391.6,422.6 390.0,422.6C388.4,422.5 387.0,422.2 385.5,422.3C384.0,422.3 382.5,422.4 381.0,422.9C379.5,423.4 378.0,424.3 376.5,425.3C375.0,426.2 373.5,427.4 372.0,428.6C370.5,429.8 369.0,431.1 367.5,432.3C366.0,433.6 364.5,435.0 363.0,436.1C361.5,437.2 360.0,438.3 358.5,439.1C357.0,439.9 355.8,440.5 354.0,440.9C352.2,441.3 350.0,441.4 348.0,441.4C346.0,441.4 344.0,440.9 342.0,440.9C340.0,441.0 338.0,441.0 336.0,441.4C334.0,441.9 332.0,442.6 330.0,443.7C328.0,444.9 326.0,446.6 324.0,448.3C322.0,449.9 320.0,451.9 318.0,453.6C316.0,455.2 314.0,457.0 312.0,458.1C310.0,459.2 308.0,460.0 306.0,460.4C304.0,460.8 302.0,460.7 300.0,460.7C298.0,460.8 296.0,460.8 294.0,460.8C292.0,460.8 289.8,460.5 288.0,460.7C286.2,460.9 285.0,461.1 283.5,461.9C282.0,462.7 280.4,464.1 279.0,465.6C277.6,467.0 275.9,469.6 275.2,470.4Z" fill="#999999" fill-opacity="0.4"/>
<path d="M275.2,461.0C275.9,460.4 277.6,458.4 279.0,457.2C280.4,456.1 282.0,454.9 283.5,454.2C285.0,453.6 286.2,453.6 288.0,453.5C289.8,453.4 292.0,453.8 294.0,453.8C296.0,453.9 298.0,453.9 300.0,453.8C302.0,453.8 304.0,453.9 306.0,453.5C308.0,453.1 310.0,452.4 312.0,451.2C314.0,450.1 316.0,448.4 318.0,446.8C320.0,445.1 322.0,443.1 324.0,441.5C326.0,439.9 328.0,438.1 330.0,437.0C332.0,435.9 334.0,435.2 336.0,434.8C338.0,434.3 340.0,434.3 342.0,434.3C344.0,434.3 346.0,434.8 348.0,434.8C350.0,434.8 352.2,434.7 354.0,434.3C355.8,433.9 357.0,433.3 358.5,432.5C360.0,431.7 361.5,430.6 363.0,429.5C364.5,428.4 366.0,427.0 367.5,425.8C369.0,424.5 370.5,423.2 372.0,422.0C373.5,420.8 375.0,419.6 376.5,418.7C378.0,417.8 379.5,416.8 381.0,416.3C382.5,415.8 384.0,415.8 385.5,415.7C387.0,415.6 388.4,415.9 390.0,416.0C391.6,416.1 393.1,416.1 395.0,416.0C396.9,415.9 399.4,415.7 401.2,415.2C403.1,414.8 404.6,414.1 406.2,413.1C407.9,412.1 409.6,410.7 411.2,409.4C412.9,408.0 414.6,406.4 416.2,405.0C417.9,403.6 419.6,402.3 421.2,401.2C422.9,400.2 424.6,399.1 426.2,398.5C427.9,397.9 429.4,397.7 431.2,397.5C433.1,397.3 435.4,397.5 437.5,397.5C439.6,397.5 441.7,397.6 443.8,397.5C445.8,397.4 448.1,397.4 450.0,396.9C451.9,396.4 453.3,395.4 455.0,394.4C456.7,393.3 458.8,391.4 460.0,390.6C461.2,389.9 461.5,390.7 462.5,390.0C463.5,389.3 465.0,387.5 466.2,386.2C467.5,385.0 468.8,383.5 470.0,382.5C471.2,381.5 472.3,380.6 473.8,380.0C475.2,379.4 477.1,379.0 478.8,378.8C480.4,378.5 482.1,378.5 483.8,378.5C485.4,378.5 487.1,378.5 488.8,378.5C490.4,378.5 492.1,378.7 493.8,378.5C495.4,378.3 497.3,378.0 498.8,377.5C500.2,377.0 501.2,376.4 502.5,375.6C503.8,374.9 505.0,374.1 506.2,373.1C507.5,372.2 508.8,371.0 510.0,370.0C511.2,369.0 512.5,367.8 513.8,366.9C515.0,365.9 516.2,365.1 517.5,364.4C518.8,363.6 520.0,363.0 521.2,362.5C522.5,362.0 524.1,361.6 525.0,361.2C525.9,360.9 526.6,360.7 526.9,360.6" fill="none" stroke="#F962DD" stroke-width="3.8" stroke-linejoin="round"/>
<path d="M427.5,330.9C428.1,331.2 430.0,331.7 431.2,332.5C432.5,333.3 433.8,334.6 435.0,335.8C436.2,336.9 437.5,338.4 438.8,339.4C440.0,340.5 441.2,341.5 442.5,342.1C443.8,342.7 445.0,342.9 446.2,343.0C447.5,343.1 448.8,343.1 450.0,342.8C451.2,342.4 452.5,341.9 453.8,340.9C455.0,339.8 456.2,338.2 457.5,336.5C458.8,334.8 460.0,332.8 461.2,330.9C462.5,329.0 463.5,327.0 465.0,325.2C466.5,323.5 468.8,321.9 470.0,320.2C471.2,318.6 471.5,316.2 472.5,315.2C473.5,314.3 475.0,314.5 476.2,314.6C477.5,314.7 478.8,315.3 480.0,315.9C481.2,316.5 482.5,317.4 483.8,318.4C485.0,319.3 486.2,320.7 487.5,321.5C488.8,322.3 490.0,323.1 491.2,323.4C492.5,323.7 493.8,323.6 495.0,323.4C496.2,323.2 497.5,322.9 498.8,322.1C500.0,321.4 501.2,320.4 502.5,319.0C503.8,317.6 505.0,315.9 506.2,314.0C507.5,312.1 508.8,309.7 510.0,307.8C511.2,305.8 512.5,304.0 513.8,302.4C515.0,300.8 516.2,299.4 517.5,298.2C518.8,297.1 520.0,296.2 521.2,295.5C522.5,294.8 524.0,294.3 525.0,293.9C526.0,293.5 527.1,293.1 527.5,293.0L527.5,315.0C527.1,315.0 526.0,314.9 525.0,314.9C524.0,314.9 522.5,314.7 521.2,315.0C520.0,315.3 518.8,315.9 517.5,316.8C516.2,317.6 515.0,318.8 513.8,320.1C512.5,321.5 511.2,322.9 510.0,324.8C508.8,326.6 507.5,329.1 506.2,331.0C505.0,332.9 503.8,334.6 502.5,336.0C501.2,337.4 500.0,338.4 498.8,339.1C497.5,339.9 496.2,340.2 495.0,340.4C493.8,340.6 492.5,340.7 491.2,340.4C490.0,340.1 488.8,339.3 487.5,338.5C486.2,337.7 485.0,336.3 483.8,335.4C482.5,334.4 481.2,333.5 480.0,332.9C478.8,332.3 477.5,331.7 476.2,331.6C475.0,331.5 473.5,331.3 472.5,332.2C471.5,333.2 471.2,335.6 470.0,337.2C468.8,338.9 466.5,340.5 465.0,342.2C463.5,344.0 462.5,346.0 461.2,347.9C460.0,349.8 458.8,351.8 457.5,353.5C456.2,355.2 455.0,356.8 453.8,357.9C452.5,358.9 451.2,359.4 450.0,359.8C448.8,360.1 447.5,360.1 446.2,360.0C445.0,359.9 443.8,359.7 442.5,359.1C441.2,358.6 440.0,357.6 438.8,356.8C437.5,356.0 436.2,354.9 435.0,354.2C433.8,353.5 432.5,352.7 431.2,352.5C430.0,352.3 428.1,352.8 427.5,352.9Z" fill="#999999" fill-opacity="0.4"/>
<path d="M427.5,341.9C428.1,342.0 430.0,342.0 431.2,342.5C432.5,343.0 433.8,344.1 435.0,345.0C436.2,345.9 437.5,347.2 438.8,348.1C440.0,349.1 441.2,350.1 442.5,350.6C443.8,351.2 445.0,351.4 446.2,351.5C447.5,351.6 448.8,351.6 450.0,351.2C451.2,350.9 452.5,350.4 453.8,349.4C455.0,348.3 456.2,346.7 457.5,345.0C458.8,343.3 460.0,341.3 461.2,339.4C462.5,337.5 463.5,335.5 465.0,333.8C466.5,332.0 468.8,330.4 470.0,328.8C471.2,327.1 471.5,324.7 472.5,323.8C473.5,322.8 475.0,323.0 476.2,323.1C477.5,323.2 478.8,323.8 480.0,324.4C481.2,325.0 482.5,325.9 483.8,326.9C485.0,327.8 486.2,329.2 487.5,330.0C488.8,330.8 490.0,331.6 491.2,331.9C492.5,332.2 493.8,332.1 495.0,331.9C496.2,331.7 497.5,331.4 498.8,330.6C500.0,329.9 501.2,328.9 502.5,327.5C503.8,326.1 505.0,324.4 506.2,322.5C507.5,320.6 508.8,318.1 510.0,316.2C511.2,314.4 512.5,312.7 513.8,311.2C515.0,309.8 516.2,308.5 517.5,307.5C518.8,306.5 520.0,305.8 521.2,305.2C522.5,304.7 524.0,304.6 525.0,304.4C526.0,304.2 527.1,304.1 527.5,304.0" fill="none" stroke="#FF65AC" stroke-width="3.8" stroke-linejoin="round"/>
</g>
<g stroke="#333333" stroke-width="1.4" stroke-linecap="square">
<line x1="71.45" x2="549.2" y1="10.0" y2="10.0" stroke-opacity="0.85"/>
<line x1="71.45" x2="71.45" y1="10.0" y2="739.4" stroke-opacity="0.8"/>
<line x1="549.2" x2="549.2" y1="10.0" y2="739.4"/>
<line x1="71.45" x2="549.2" y1="739.4" y2="739.4"/>
</g>
<g stroke="#333333" stroke-width="1.4">
<line x1="89.60" x2="89.60" y1="739.4" y2="744.8"/>
<line x1="218.27" x2="218.27" y1="739.4" y2="744.8"/>
<line x1="346.93" x2="346.93" y1="739.4" y2="744.8"/>
<line x1="475.60" x2="475.60" y1="739.4" y2="744.8"/>
<line y1="554.10" y2="554.10" x1="66.25" x2="71.45"/>
<line y1="280.50" y2="280.50" x1="66.25" x2="71.45"/>
</g>
<text transform="translate(89.90,762.10) scale(0.975,1)" text-anchor="middle" font-family="Liberation Sans, sans-serif" font-size="16.1" fill="#4d4d4d">1850</text>
<text transform="translate(218.57,762.10) scale(0.975,1)" text-anchor="middle" font-family="Liberation Sans, sans-serif" font-size="16.1" fill="#4d4d4d">1900</text>
<text transform="translate(347.23,762.10) scale(0.975,1)" text-anchor="middle" font-family="Liberation Sans, sans-serif" font-size="16.1" fill="#4d4d4d">1950</text>
<text transform="translate(475.90,762.10) scale(0.975,1)" text-anchor="middle" font-family="Liberation Sans, sans-serif" font-size="16.1" fill="#4d4d4d">2000</text>
<text transform="translate(61.10,561.00) scale(0.95,1)" text-anchor="end" font-family="Liberation Sans, sans-serif" font-size="16.1" fill="#4d4d4d">50</text>
<text transform="translate(61.10,287.40) scale(0.95,1)" text-anchor="end" font-family="Liberation Sans, sans-serif" font-size="16.1" fill="#4d4d4d">100</text>
<text transform="translate(309.90,785.60) scale(1.0,1)" text-anchor="middle" font-family="Liberation Sans, sans-serif" font-size="20.2" fill="#000">Jaar</text>
<text transform="translate(26.00,375.40) rotate(-90) scale(0.994,1)" text-anchor="middle" font-family="Liberation Sans, sans-serif" font-size="20.2" fill="#000">Jaargemiddelde gemeten hoogwater in cm</text>
<text transform="translate(580.00,169.70) scale(1.008,1)" text-anchor="start" font-family="Liberation Sans, sans-serif" font-size="20.2" fill="#000">locatie.naam</text>
<rect x="580" y="182.05" width="31.8" height="415.48" fill="#d9d9d9"/>
<line x1="582.8" x2="608.3" y1="198.03" y2="198.03" stroke="#F8766D" stroke-width="3.5"/>
<circle cx="595.9" cy="198.03" r="2.7" fill="#F8766D"/>
<text x="621.6" y="204.33" font-family="Liberation Sans, sans-serif" font-size="16.1" fill="#000" textLength="45.4" lengthAdjust="spacingAndGlyphs">Delfzijl</text>
<line x1="582.8" x2="608.3" y1="229.99" y2="229.99" stroke="#E18A00" stroke-width="3.5"/>
<circle cx="595.9" cy="229.99" r="2.7" fill="#E18A00"/>
<text x="621.6" y="236.29" font-family="Liberation Sans, sans-serif" font-size="16.1" fill="#000" textLength="79.3" lengthAdjust="spacingAndGlyphs">Den Helder</text>
<line x1="582.8" x2="608.3" y1="261.95" y2="261.95" stroke="#BE9C00" stroke-width="3.5"/>
<circle cx="595.9" cy="261.95" r="2.7" fill="#BE9C00"/>
<text x="621.6" y="268.25" font-family="Liberation Sans, sans-serif" font-size="16.1" fill="#000" textLength="82.3" lengthAdjust="spacingAndGlyphs">Eemshaven</text>
<line x1="582.8" x2="608.3" y1="293.91" y2="293.91" stroke="#8CAB00" stroke-width="3.5"/>
<circle cx="595.9" cy="293.91" r="2.7" fill="#8CAB00"/>
<text x="621.6" y="300.21" font-family="Liberation Sans, sans-serif" font-size="16.1" fill="#000" textLength="66.4" lengthAdjust="spacingAndGlyphs">Harlingen</text>
<line x1="582.8" x2="608.3" y1="325.87" y2="325.87" stroke="#24B700" stroke-width="3.5"/>
<circle cx="595.9" cy="325.87" r="2.7" fill="#24B700"/>
<text x="621.6" y="332.17" font-family="Liberation Sans, sans-serif" font-size="16.1" fill="#000" textLength="56.8" lengthAdjust="spacingAndGlyphs">Holwerd</text>
<line x1="582.8" x2="608.3" y1="357.83" y2="357.83" stroke="#00BE70" stroke-width="3.5"/>
<circle cx="595.9" cy="357.83" r="2.7" fill="#00BE70"/>
<text x="621.6" y="364.13" font-family="Liberation Sans, sans-serif" font-size="16.1" fill="#000" textLength="72.4" lengthAdjust="spacingAndGlyphs">Huibertgat</text>
<line x1="582.8" x2="608.3" y1="389.79" y2="389.79" stroke="#00C1AB" stroke-width="3.5"/>
<circle cx="595.9" cy="389.79" r="2.7" fill="#00C1AB"/>
<text x="621.6" y="396.09" font-family="Liberation Sans, sans-serif" font-size="16.1" fill="#000" textLength="86.5" lengthAdjust="spacingAndGlyphs">Lauwersoog</text>
<line x1="582.8" x2="608.3" y1="421.75" y2="421.75" stroke="#00BBDA" stroke-width="3.5"/>
<circle cx="595.9" cy="421.75" r="2.7" fill="#00BBDA"/>
<text x="621.6" y="428.05" font-family="Liberation Sans, sans-serif" font-size="16.1" fill="#000" textLength="29.5" lengthAdjust="spacingAndGlyphs">Nes</text>
<line x1="582.8" x2="608.3" y1="453.71" y2="453.71" stroke="#00ACFC" stroke-width="3.5"/>
<circle cx="595.9" cy="453.71" r="2.7" fill="#00ACFC"/>
<text x="621.6" y="460.01" font-family="Liberation Sans, sans-serif" font-size="16.1" fill="#000" textLength="120.5" lengthAdjust="spacingAndGlyphs">Schiermonnikoog</text>
<line x1="582.8" x2="608.3" y1="485.67" y2="485.67" stroke="#8B93FF" stroke-width="3.5"/>
<circle cx="595.9" cy="485.67" r="2.7" fill="#8B93FF"/>
<text x="621.6" y="491.97" font-family="Liberation Sans, sans-serif" font-size="16.1" fill="#000" textLength="157.3" lengthAdjust="spacingAndGlyphs">Terschelling Noordzee</text>
<line x1="582.8" x2="608.3" y1="517.63" y2="517.63" stroke="#D575FE" stroke-width="3.5"/>
<circle cx="595.9" cy="517.63" r="2.7" fill="#D575FE"/>
<text x="621.6" y="523.93" font-family="Liberation Sans, sans-serif" font-size="16.1" fill="#000" textLength="111.9" lengthAdjust="spacingAndGlyphs">Texel Noordzee</text>
<line x1="582.8" x2="608.3" y1="549.59" y2="549.59" stroke="#F962DD" stroke-width="3.5"/>
<circle cx="595.9" cy="549.59" r="2.7" fill="#F962DD"/>
<text x="621.6" y="555.89" font-family="Liberation Sans, sans-serif" font-size="16.1" fill="#000" textLength="126.9" lengthAdjust="spacingAndGlyphs">West-Terschelling</text>
<line x1="582.8" x2="608.3" y1="581.55" y2="581.55" stroke="#FF65AC" stroke-width="3.5"/>
<circle cx="595.9" cy="581.55" r="2.7" fill="#FF65AC"/>
<text x="621.6" y="587.85" font-family="Liberation Sans, sans-serif" font-size="16.1" fill="#000" textLength="126.4" lengthAdjust="spacingAndGlyphs">Wierumergronden</text>
</svg>
</body></html>
